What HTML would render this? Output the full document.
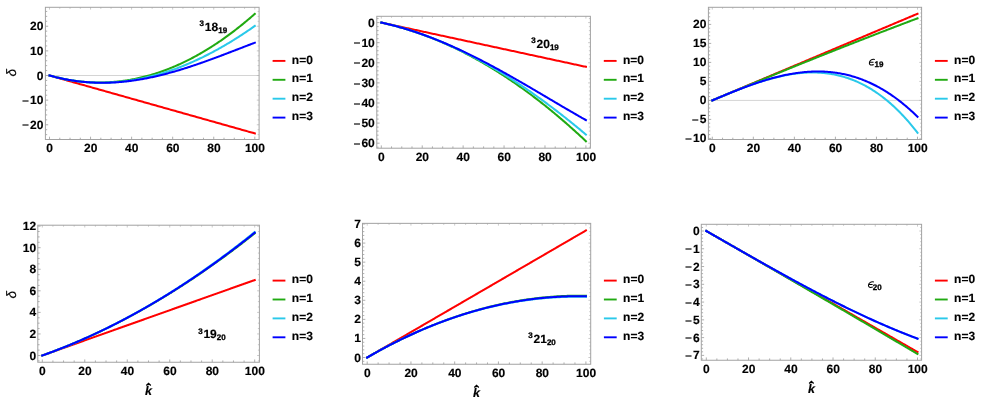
<!DOCTYPE html>
<html><head><meta charset="utf-8"><title>plots</title>
<style>
html,body{margin:0;padding:0;background:#fff;}
body{width:981px;height:404px;overflow:hidden;}
svg{display:block;will-change:transform;text-rendering:geometricPrecision;}
svg text{font-family:"Liberation Sans",sans-serif;font-weight:bold;font-size:12px;fill:#000;stroke:#000;stroke-width:0.15px;}
</style></head><body>
<svg width="981" height="404" viewBox="0 0 981 404">
<rect width="981" height="404" fill="#fff"/>
<g>
<line x1="45.4" y1="75.5" x2="259.1" y2="75.5" stroke="#d4d4d4" stroke-width="1"/>
<polyline points="49.5,75.5 50.53,75.79 51.55,76.08 52.58,76.37 53.61,76.66 54.63,76.95 55.66,77.24 56.69,77.53 57.71,77.82 58.74,78.11 59.77,78.4 60.79,78.68 61.82,78.97 62.84,79.26 63.87,79.55 64.9,79.84 65.92,80.13 66.95,80.42 67.98,80.71 69,81 70.03,81.29 71.06,81.58 72.08,81.87 73.11,82.16 74.14,82.45 75.16,82.74 76.19,83.03 77.22,83.32 78.24,83.61 79.27,83.9 80.3,84.19 81.32,84.48 82.35,84.76 83.37,85.05 84.4,85.34 85.43,85.63 86.45,85.92 87.48,86.21 88.51,86.5 89.53,86.79 90.56,87.08 91.59,87.37 92.61,87.66 93.64,87.95 94.67,88.24 95.69,88.53 96.72,88.82 97.75,89.11 98.77,89.4 99.8,89.69 100.83,89.98 101.85,90.27 102.88,90.56 103.9,90.84 104.93,91.13 105.96,91.42 106.98,91.71 108.01,92 109.04,92.29 110.06,92.58 111.09,92.87 112.12,93.16 113.14,93.45 114.17,93.74 115.2,94.03 116.22,94.32 117.25,94.61 118.28,94.9 119.3,95.19 120.33,95.48 121.36,95.77 122.38,96.06 123.41,96.35 124.43,96.63 125.46,96.92 126.49,97.21 127.51,97.5 128.54,97.79 129.57,98.08 130.59,98.37 131.62,98.66 132.65,98.95 133.67,99.24 134.7,99.53 135.73,99.82 136.75,100.11 137.78,100.4 138.81,100.69 139.83,100.98 140.86,101.27 141.88,101.56 142.91,101.85 143.94,102.14 144.96,102.43 145.99,102.71 147.02,103 148.04,103.29 149.07,103.58 150.1,103.87 151.12,104.16 152.15,104.45 153.18,104.74 154.2,105.03 155.23,105.32 156.26,105.61 157.28,105.9 158.31,106.19 159.34,106.48 160.36,106.77 161.39,107.06 162.42,107.35 163.44,107.64 164.47,107.93 165.49,108.22 166.52,108.51 167.55,108.79 168.57,109.08 169.6,109.37 170.63,109.66 171.65,109.95 172.68,110.24 173.71,110.53 174.73,110.82 175.76,111.11 176.79,111.4 177.81,111.69 178.84,111.98 179.87,112.27 180.89,112.56 181.92,112.85 182.94,113.14 183.97,113.43 185,113.72 186.02,114.01 187.05,114.3 188.08,114.59 189.1,114.87 190.13,115.16 191.16,115.45 192.18,115.74 193.21,116.03 194.24,116.32 195.26,116.61 196.29,116.9 197.32,117.19 198.34,117.48 199.37,117.77 200.4,118.06 201.42,118.35 202.45,118.64 203.47,118.93 204.5,119.22 205.53,119.51 206.55,119.8 207.58,120.09 208.61,120.38 209.63,120.67 210.66,120.95 211.69,121.24 212.71,121.53 213.74,121.82 214.77,122.11 215.79,122.4 216.82,122.69 217.85,122.98 218.87,123.27 219.9,123.56 220.93,123.85 221.95,124.14 222.98,124.43 224,124.72 225.03,125.01 226.06,125.3 227.08,125.59 228.11,125.88 229.14,126.17 230.16,126.46 231.19,126.75 232.22,127.03 233.24,127.32 234.27,127.61 235.3,127.9 236.32,128.19 237.35,128.48 238.38,128.77 239.4,129.06 240.43,129.35 241.46,129.64 242.48,129.93 243.51,130.22 244.53,130.51 245.56,130.8 246.59,131.09 247.61,131.38 248.64,131.67 249.67,131.96 250.69,132.25 251.72,132.54 252.75,132.82 253.77,133.11 254.8,133.4" fill="none" stroke="#ff0000" stroke-width="2.05" stroke-linecap="square" stroke-linejoin="round"/>
<polyline points="49.5,75.5 50.53,75.79 51.55,76.07 52.58,76.34 53.61,76.61 54.63,76.87 55.66,77.13 56.69,77.38 57.71,77.62 58.74,77.86 59.77,78.1 60.79,78.32 61.82,78.54 62.84,78.76 63.87,78.97 64.9,79.17 65.92,79.37 66.95,79.56 67.98,79.74 69,79.92 70.03,80.1 71.06,80.26 72.08,80.42 73.11,80.58 74.14,80.73 75.16,80.87 76.19,81.01 77.22,81.14 78.24,81.26 79.27,81.38 80.3,81.5 81.32,81.6 82.35,81.71 83.37,81.8 84.4,81.89 85.43,81.97 86.45,82.05 87.48,82.12 88.51,82.19 89.53,82.25 90.56,82.3 91.59,82.35 92.61,82.39 93.64,82.43 94.67,82.45 95.69,82.48 96.72,82.5 97.75,82.51 98.77,82.51 99.8,82.51 100.83,82.51 101.85,82.49 102.88,82.48 103.9,82.45 104.93,82.42 105.96,82.39 106.98,82.34 108.01,82.3 109.04,82.24 110.06,82.18 111.09,82.12 112.12,82.04 113.14,81.97 114.17,81.88 115.2,81.79 116.22,81.7 117.25,81.59 118.28,81.49 119.3,81.37 120.33,81.25 121.36,81.13 122.38,81 123.41,80.86 124.43,80.71 125.46,80.56 126.49,80.41 127.51,80.25 128.54,80.08 129.57,79.91 130.59,79.73 131.62,79.54 132.65,79.35 133.67,79.15 134.7,78.95 135.73,78.74 136.75,78.52 137.78,78.3 138.81,78.08 139.83,77.84 140.86,77.6 141.88,77.36 142.91,77.11 143.94,76.85 144.96,76.59 145.99,76.32 147.02,76.04 148.04,75.76 149.07,75.47 150.1,75.18 151.12,74.88 152.15,74.58 153.18,74.27 154.2,73.95 155.23,73.63 156.26,73.3 157.28,72.96 158.31,72.62 159.34,72.27 160.36,71.92 161.39,71.56 162.42,71.2 163.44,70.83 164.47,70.45 165.49,70.07 166.52,69.68 167.55,69.28 168.57,68.88 169.6,68.48 170.63,68.06 171.65,67.65 172.68,67.22 173.71,66.79 174.73,66.35 175.76,65.91 176.79,65.46 177.81,65.01 178.84,64.55 179.87,64.08 180.89,63.61 181.92,63.13 182.94,62.65 183.97,62.16 185,61.66 186.02,61.16 187.05,60.65 188.08,60.14 189.1,59.62 190.13,59.09 191.16,58.56 192.18,58.02 193.21,57.48 194.24,56.93 195.26,56.37 196.29,55.81 197.32,55.24 198.34,54.67 199.37,54.09 200.4,53.5 201.42,52.91 202.45,52.31 203.47,51.71 204.5,51.1 205.53,50.48 206.55,49.86 207.58,49.23 208.61,48.6 209.63,47.96 210.66,47.31 211.69,46.66 212.71,46 213.74,45.34 214.77,44.67 215.79,44 216.82,43.31 217.85,42.63 218.87,41.93 219.9,41.23 220.93,40.53 221.95,39.82 222.98,39.1 224,38.38 225.03,37.65 226.06,36.91 227.08,36.17 228.11,35.42 229.14,34.67 230.16,33.91 231.19,33.15 232.22,32.38 233.24,31.6 234.27,30.82 235.3,30.03 236.32,29.23 237.35,28.43 238.38,27.62 239.4,26.81 240.43,25.99 241.46,25.17 242.48,24.34 243.51,23.5 244.53,22.66 245.56,21.81 246.59,20.95 247.61,20.09 248.64,19.23 249.67,18.35 250.69,17.47 251.72,16.59 252.75,15.7 253.77,14.8 254.8,13.9" fill="none" stroke="#21aa12" stroke-width="2.05" stroke-linecap="square" stroke-linejoin="round"/>
<polyline points="49.5,75.5 50.53,75.79 51.55,76.07 52.58,76.34 53.61,76.61 54.63,76.87 55.66,77.13 56.69,77.38 57.71,77.63 58.74,77.86 59.77,78.1 60.79,78.33 61.82,78.55 62.84,78.76 63.87,78.97 64.9,79.18 65.92,79.37 66.95,79.57 67.98,79.75 69,79.93 70.03,80.11 71.06,80.28 72.08,80.44 73.11,80.6 74.14,80.75 75.16,80.89 76.19,81.03 77.22,81.17 78.24,81.3 79.27,81.42 80.3,81.54 81.32,81.65 82.35,81.75 83.37,81.85 84.4,81.95 85.43,82.04 86.45,82.12 87.48,82.2 88.51,82.27 89.53,82.34 90.56,82.4 91.59,82.45 92.61,82.5 93.64,82.55 94.67,82.58 95.69,82.62 96.72,82.64 97.75,82.66 98.77,82.68 99.8,82.69 100.83,82.7 101.85,82.69 102.88,82.69 103.9,82.68 104.93,82.66 105.96,82.64 106.98,82.61 108.01,82.58 109.04,82.54 110.06,82.49 111.09,82.44 112.12,82.39 113.14,82.33 114.17,82.26 115.2,82.19 116.22,82.11 117.25,82.03 118.28,81.94 119.3,81.85 120.33,81.75 121.36,81.64 122.38,81.54 123.41,81.42 124.43,81.3 125.46,81.18 126.49,81.05 127.51,80.91 128.54,80.77 129.57,80.62 130.59,80.47 131.62,80.31 132.65,80.15 133.67,79.98 134.7,79.81 135.73,79.63 136.75,79.45 137.78,79.26 138.81,79.07 139.83,78.87 140.86,78.67 141.88,78.46 142.91,78.24 143.94,78.02 144.96,77.8 145.99,77.57 147.02,77.34 148.04,77.1 149.07,76.85 150.1,76.6 151.12,76.35 152.15,76.09 153.18,75.82 154.2,75.55 155.23,75.27 156.26,74.99 157.28,74.71 158.31,74.42 159.34,74.12 160.36,73.82 161.39,73.52 162.42,73.21 163.44,72.89 164.47,72.57 165.49,72.24 166.52,71.91 167.55,71.58 168.57,71.24 169.6,70.89 170.63,70.54 171.65,70.19 172.68,69.83 173.71,69.46 174.73,69.09 175.76,68.72 176.79,68.34 177.81,67.96 178.84,67.57 179.87,67.17 180.89,66.77 181.92,66.37 182.94,65.96 183.97,65.55 185,65.13 186.02,64.71 187.05,64.28 188.08,63.85 189.1,63.41 190.13,62.97 191.16,62.52 192.18,62.07 193.21,61.62 194.24,61.16 195.26,60.69 196.29,60.22 197.32,59.75 198.34,59.27 199.37,58.78 200.4,58.29 201.42,57.8 202.45,57.3 203.47,56.8 204.5,56.29 205.53,55.78 206.55,55.27 207.58,54.74 208.61,54.22 209.63,53.69 210.66,53.15 211.69,52.61 212.71,52.07 213.74,51.52 214.77,50.97 215.79,50.41 216.82,49.85 217.85,49.28 218.87,48.71 219.9,48.14 220.93,47.56 221.95,46.97 222.98,46.38 224,45.79 225.03,45.19 226.06,44.59 227.08,43.99 228.11,43.37 229.14,42.76 230.16,42.14 231.19,41.52 232.22,40.89 233.24,40.25 234.27,39.62 235.3,38.98 236.32,38.33 237.35,37.68 238.38,37.03 239.4,36.37 240.43,35.7 241.46,35.04 242.48,34.36 243.51,33.69 244.53,33.01 245.56,32.32 246.59,31.63 247.61,30.94 248.64,30.24 249.67,29.54 250.69,28.84 251.72,28.13 252.75,27.41 253.77,26.7 254.8,25.97" fill="none" stroke="#2ac9ea" stroke-width="2.05" stroke-linecap="square" stroke-linejoin="round"/>
<polyline points="49.5,75.5 50.53,75.79 51.55,76.07 52.58,76.34 53.61,76.61 54.63,76.87 55.66,77.13 56.69,77.38 57.71,77.63 58.74,77.86 59.77,78.1 60.79,78.33 61.82,78.55 62.84,78.76 63.87,78.97 64.9,79.18 65.92,79.37 66.95,79.57 67.98,79.75 69,79.93 70.03,80.11 71.06,80.28 72.08,80.44 73.11,80.6 74.14,80.75 75.16,80.9 76.19,81.04 77.22,81.17 78.24,81.3 79.27,81.43 80.3,81.55 81.32,81.66 82.35,81.77 83.37,81.87 84.4,81.96 85.43,82.05 86.45,82.14 87.48,82.22 88.51,82.29 89.53,82.36 90.56,82.42 91.59,82.48 92.61,82.53 93.64,82.58 94.67,82.62 95.69,82.66 96.72,82.69 97.75,82.72 98.77,82.74 99.8,82.75 100.83,82.76 101.85,82.77 102.88,82.77 103.9,82.76 104.93,82.75 105.96,82.73 106.98,82.71 108.01,82.69 109.04,82.65 110.06,82.62 111.09,82.58 112.12,82.53 113.14,82.48 114.17,82.42 115.2,82.36 116.22,82.3 117.25,82.23 118.28,82.15 119.3,82.07 120.33,81.99 121.36,81.9 122.38,81.8 123.41,81.7 124.43,81.6 125.46,81.49 126.49,81.38 127.51,81.26 128.54,81.14 129.57,81.01 130.59,80.88 131.62,80.74 132.65,80.6 133.67,80.46 134.7,80.31 135.73,80.16 136.75,80 137.78,79.84 138.81,79.67 139.83,79.5 140.86,79.32 141.88,79.14 142.91,78.96 143.94,78.77 144.96,78.58 145.99,78.39 147.02,78.19 148.04,77.98 149.07,77.78 150.1,77.57 151.12,77.35 152.15,77.13 153.18,76.91 154.2,76.68 155.23,76.45 156.26,76.22 157.28,75.98 158.31,75.74 159.34,75.5 160.36,75.25 161.39,74.99 162.42,74.74 163.44,74.48 164.47,74.22 165.49,73.95 166.52,73.68 167.55,73.41 168.57,73.13 169.6,72.86 170.63,72.57 171.65,72.29 172.68,72 173.71,71.71 174.73,71.41 175.76,71.12 176.79,70.82 177.81,70.51 178.84,70.21 179.87,69.9 180.89,69.59 181.92,69.27 182.94,68.95 183.97,68.63 185,68.31 186.02,67.99 187.05,67.66 188.08,67.33 189.1,66.99 190.13,66.66 191.16,66.32 192.18,65.98 193.21,65.64 194.24,65.3 195.26,64.95 196.29,64.6 197.32,64.25 198.34,63.9 199.37,63.54 200.4,63.18 201.42,62.83 202.45,62.46 203.47,62.1 204.5,61.74 205.53,61.37 206.55,61 207.58,60.63 208.61,60.26 209.63,59.89 210.66,59.52 211.69,59.14 212.71,58.76 213.74,58.39 214.77,58.01 215.79,57.62 216.82,57.24 217.85,56.86 218.87,56.47 219.9,56.09 220.93,55.7 221.95,55.32 222.98,54.93 224,54.54 225.03,54.15 226.06,53.76 227.08,53.37 228.11,52.97 229.14,52.58 230.16,52.19 231.19,51.79 232.22,51.4 233.24,51 234.27,50.61 235.3,50.21 236.32,49.82 237.35,49.42 238.38,49.03 239.4,48.63 240.43,48.24 241.46,47.84 242.48,47.45 243.51,47.05 244.53,46.66 245.56,46.26 246.59,45.87 247.61,45.47 248.64,45.08 249.67,44.68 250.69,44.29 251.72,43.9 252.75,43.51 253.77,43.12 254.8,42.73" fill="none" stroke="#0000ff" stroke-width="2.05" stroke-linecap="square" stroke-linejoin="round"/>
<path d="M49.5 139.5v-2.8M59.77 139.5v-1.8M70.03 139.5v-1.8M80.3 139.5v-1.8M90.56 139.5v-2.8M100.83 139.5v-1.8M111.09 139.5v-1.8M121.36 139.5v-1.8M131.62 139.5v-2.8M141.88 139.5v-1.8M152.15 139.5v-1.8M162.42 139.5v-1.8M172.68 139.5v-2.8M182.94 139.5v-1.8M193.21 139.5v-1.8M203.47 139.5v-1.8M213.74 139.5v-2.8M224 139.5v-1.8M234.27 139.5v-1.8M244.53 139.5v-1.8M254.8 139.5v-2.8M45.4 134.64h1.8M45.4 129.71h1.8M45.4 124.78h2.8M45.4 119.85h1.8M45.4 114.92h1.8M45.4 110h1.8M45.4 105.07h1.8M45.4 100.14h2.8M45.4 95.21h1.8M45.4 90.28h1.8M45.4 85.36h1.8M45.4 80.43h1.8M45.4 75.5h2.8M45.4 70.57h1.8M45.4 65.64h1.8M45.4 60.72h1.8M45.4 55.79h1.8M45.4 50.86h2.8M45.4 45.93h1.8M45.4 41h1.8M45.4 36.08h1.8M45.4 31.15h1.8M45.4 26.22h2.8M45.4 21.29h1.8M45.4 16.36h1.8M45.4 11.44h1.8" stroke="#a0a0a0" stroke-width="0.85" fill="none"/>
<path d="M49.5 7.3v2.3M59.77 7.3v1.5M70.03 7.3v1.5M80.3 7.3v1.5M90.56 7.3v2.3M100.83 7.3v1.5M111.09 7.3v1.5M121.36 7.3v1.5M131.62 7.3v2.3M141.88 7.3v1.5M152.15 7.3v1.5M162.42 7.3v1.5M172.68 7.3v2.3M182.94 7.3v1.5M193.21 7.3v1.5M203.47 7.3v1.5M213.74 7.3v2.3M224 7.3v1.5M234.27 7.3v1.5M244.53 7.3v1.5M254.8 7.3v2.3M259.1 134.64h-1.5M259.1 129.71h-1.5M259.1 124.78h-2.3M259.1 119.85h-1.5M259.1 114.92h-1.5M259.1 110h-1.5M259.1 105.07h-1.5M259.1 100.14h-2.3M259.1 95.21h-1.5M259.1 90.28h-1.5M259.1 85.36h-1.5M259.1 80.43h-1.5M259.1 75.5h-2.3M259.1 70.57h-1.5M259.1 65.64h-1.5M259.1 60.72h-1.5M259.1 55.79h-1.5M259.1 50.86h-2.3M259.1 45.93h-1.5M259.1 41h-1.5M259.1 36.08h-1.5M259.1 31.15h-1.5M259.1 26.22h-2.3M259.1 21.29h-1.5M259.1 16.36h-1.5M259.1 11.44h-1.5" stroke="#bebebe" stroke-width="0.8" fill="none"/>
<rect x="45.4" y="7.3" width="213.7" height="132.2" fill="none" stroke="#a2a2a2" stroke-width="1"/>
<text x="49.65" y="151.85" text-anchor="middle">0</text>
<text x="90.71" y="151.85" text-anchor="middle">20</text>
<text x="131.77" y="151.85" text-anchor="middle">40</text>
<text x="172.83" y="151.85" text-anchor="middle">60</text>
<text x="213.89" y="151.85" text-anchor="middle">80</text>
<text x="254.95" y="151.85" text-anchor="middle">100</text>
<text x="43.4" y="30.27" text-anchor="end">20</text>
<text x="43.4" y="54.91" text-anchor="end">10</text>
<text x="43.4" y="79.55" text-anchor="end">0</text>
<text x="43.4" y="104.19" text-anchor="end"><tspan dy="0.6" style="font-weight:normal">−</tspan><tspan dx="1.0" dy="-0.6">10</tspan></text>
<text x="43.4" y="128.83" text-anchor="end"><tspan dy="0.6" style="font-weight:normal">−</tspan><tspan dx="1.0" dy="-0.6">20</tspan></text>
<text transform="translate(15.7,72.6) rotate(-90)" text-anchor="middle" style="font-style:italic;font-weight:normal;font-size:13.6px">δ</text>
<line x1="272.6" y1="60.9" x2="285.4" y2="60.9" stroke="#ff0000" stroke-width="1.9"/>
<text x="291.8" y="63.5">n=0</text>
<line x1="272.6" y1="79.8" x2="285.4" y2="79.8" stroke="#21aa12" stroke-width="1.9"/>
<text x="291.8" y="82.4">n=1</text>
<line x1="272.6" y1="98.7" x2="285.4" y2="98.7" stroke="#2ac9ea" stroke-width="1.9"/>
<text x="291.8" y="101.3">n=2</text>
<line x1="272.6" y1="117.6" x2="285.4" y2="117.6" stroke="#0000ff" stroke-width="1.9"/>
<text x="291.8" y="120.2">n=3</text>
<text x="199.6" y="26" style="font-size:8.0px;stroke:#000;stroke-width:0.3px">3</text>
<text x="204.8" y="30.6">18</text>
<text x="218.2" y="32.6" style="font-size:8.0px;stroke:#000;stroke-width:0.3px">19</text>
</g>
<g>
<polyline points="381.3,22.6 382.32,22.82 383.35,23.04 384.37,23.26 385.39,23.48 386.42,23.71 387.44,23.93 388.46,24.15 389.48,24.37 390.51,24.59 391.53,24.81 392.55,25.03 393.58,25.25 394.6,25.47 395.62,25.7 396.64,25.92 397.67,26.14 398.69,26.36 399.71,26.58 400.74,26.8 401.76,27.02 402.78,27.24 403.81,27.46 404.83,27.69 405.85,27.91 406.88,28.13 407.9,28.35 408.92,28.57 409.94,28.79 410.97,29.01 411.99,29.23 413.01,29.45 414.04,29.68 415.06,29.9 416.08,30.12 417.11,30.34 418.13,30.56 419.15,30.78 420.17,31 421.2,31.22 422.22,31.44 423.24,31.67 424.27,31.89 425.29,32.11 426.31,32.33 427.33,32.55 428.36,32.77 429.38,32.99 430.4,33.21 431.43,33.43 432.45,33.66 433.47,33.88 434.5,34.1 435.52,34.32 436.54,34.54 437.56,34.76 438.59,34.98 439.61,35.2 440.63,35.42 441.66,35.64 442.68,35.87 443.7,36.09 444.73,36.31 445.75,36.53 446.77,36.75 447.8,36.97 448.82,37.19 449.84,37.41 450.86,37.63 451.89,37.86 452.91,38.08 453.93,38.3 454.96,38.52 455.98,38.74 457,38.96 458.02,39.18 459.05,39.4 460.07,39.62 461.09,39.85 462.12,40.07 463.14,40.29 464.16,40.51 465.19,40.73 466.21,40.95 467.23,41.17 468.25,41.39 469.28,41.61 470.3,41.84 471.32,42.06 472.35,42.28 473.37,42.5 474.39,42.72 475.42,42.94 476.44,43.16 477.46,43.38 478.49,43.6 479.51,43.83 480.53,44.05 481.55,44.27 482.58,44.49 483.6,44.71 484.62,44.93 485.65,45.15 486.67,45.37 487.69,45.59 488.71,45.82 489.74,46.04 490.76,46.26 491.78,46.48 492.81,46.7 493.83,46.92 494.85,47.14 495.88,47.36 496.9,47.58 497.92,47.81 498.94,48.03 499.97,48.25 500.99,48.47 502.01,48.69 503.04,48.91 504.06,49.13 505.08,49.35 506.11,49.57 507.13,49.8 508.15,50.02 509.18,50.24 510.2,50.46 511.22,50.68 512.24,50.9 513.27,51.12 514.29,51.34 515.31,51.56 516.34,51.79 517.36,52.01 518.38,52.23 519.4,52.45 520.43,52.67 521.45,52.89 522.47,53.11 523.5,53.33 524.52,53.55 525.54,53.78 526.57,54 527.59,54.22 528.61,54.44 529.63,54.66 530.66,54.88 531.68,55.1 532.7,55.32 533.73,55.54 534.75,55.77 535.77,55.99 536.8,56.21 537.82,56.43 538.84,56.65 539.87,56.87 540.89,57.09 541.91,57.31 542.93,57.53 543.96,57.75 544.98,57.98 546,58.2 547.03,58.42 548.05,58.64 549.07,58.86 550.1,59.08 551.12,59.3 552.14,59.52 553.16,59.74 554.19,59.97 555.21,60.19 556.23,60.41 557.26,60.63 558.28,60.85 559.3,61.07 560.33,61.29 561.35,61.51 562.37,61.73 563.39,61.96 564.42,62.18 565.44,62.4 566.46,62.62 567.49,62.84 568.51,63.06 569.53,63.28 570.55,63.5 571.58,63.72 572.6,63.95 573.62,64.17 574.65,64.39 575.67,64.61 576.69,64.83 577.72,65.05 578.74,65.27 579.76,65.49 580.78,65.71 581.81,65.94 582.83,66.16 583.85,66.38 584.88,66.6 585.9,66.82" fill="none" stroke="#ff0000" stroke-width="2.05" stroke-linecap="square" stroke-linejoin="round"/>
<polyline points="381.3,22.6 382.32,22.82 383.35,23.05 384.37,23.28 385.39,23.51 386.42,23.75 387.44,23.99 388.46,24.24 389.48,24.49 390.51,24.74 391.53,25 392.55,25.26 393.58,25.52 394.6,25.79 395.62,26.06 396.64,26.33 397.67,26.61 398.69,26.9 399.71,27.18 400.74,27.47 401.76,27.77 402.78,28.06 403.81,28.36 404.83,28.67 405.85,28.98 406.88,29.29 407.9,29.61 408.92,29.93 409.94,30.25 410.97,30.58 411.99,30.91 413.01,31.24 414.04,31.58 415.06,31.92 416.08,32.27 417.11,32.62 418.13,32.97 419.15,33.33 420.17,33.69 421.2,34.05 422.22,34.42 423.24,34.79 424.27,35.17 425.29,35.55 426.31,35.93 427.33,36.31 428.36,36.7 429.38,37.1 430.4,37.5 431.43,37.9 432.45,38.3 433.47,38.71 434.5,39.12 435.52,39.54 436.54,39.96 437.56,40.38 438.59,40.81 439.61,41.24 440.63,41.68 441.66,42.12 442.68,42.56 443.7,43.01 444.73,43.46 445.75,43.91 446.77,44.37 447.8,44.83 448.82,45.29 449.84,45.76 450.86,46.23 451.89,46.71 452.91,47.19 453.93,47.67 454.96,48.16 455.98,48.65 457,49.14 458.02,49.64 459.05,50.14 460.07,50.65 461.09,51.16 462.12,51.67 463.14,52.19 464.16,52.71 465.19,53.23 466.21,53.76 467.23,54.29 468.25,54.83 469.28,55.37 470.3,55.91 471.32,56.45 472.35,57.01 473.37,57.56 474.39,58.12 475.42,58.68 476.44,59.24 477.46,59.81 478.49,60.38 479.51,60.96 480.53,61.54 481.55,62.12 482.58,62.71 483.6,63.3 484.62,63.9 485.65,64.5 486.67,65.1 487.69,65.7 488.71,66.31 489.74,66.93 490.76,67.54 491.78,68.17 492.81,68.79 493.83,69.42 494.85,70.05 495.88,70.69 496.9,71.33 497.92,71.97 498.94,72.62 499.97,73.27 500.99,73.92 502.01,74.58 503.04,75.24 504.06,75.91 505.08,76.57 506.11,77.25 507.13,77.92 508.15,78.6 509.18,79.29 510.2,79.98 511.22,80.67 512.24,81.36 513.27,82.06 514.29,82.76 515.31,83.47 516.34,84.18 517.36,84.89 518.38,85.61 519.4,86.33 520.43,87.06 521.45,87.79 522.47,88.52 523.5,89.26 524.52,90 525.54,90.74 526.57,91.49 527.59,92.24 528.61,92.99 529.63,93.75 530.66,94.51 531.68,95.28 532.7,96.05 533.73,96.82 534.75,97.6 535.77,98.38 536.8,99.16 537.82,99.95 538.84,100.74 539.87,101.54 540.89,102.34 541.91,103.14 542.93,103.95 543.96,104.76 544.98,105.57 546,106.39 547.03,107.21 548.05,108.04 549.07,108.87 550.1,109.7 551.12,110.54 552.14,111.38 553.16,112.22 554.19,113.07 555.21,113.92 556.23,114.77 557.26,115.63 558.28,116.5 559.3,117.36 560.33,118.23 561.35,119.11 562.37,119.98 563.39,120.86 564.42,121.75 565.44,122.64 566.46,123.53 567.49,124.43 568.51,125.33 569.53,126.23 570.55,127.14 571.58,128.05 572.6,128.96 573.62,129.88 574.65,130.8 575.67,131.73 576.69,132.66 577.72,133.59 578.74,134.53 579.76,135.47 580.78,136.41 581.81,137.36 582.83,138.31 583.85,139.27 584.88,140.23 585.9,141.19" fill="none" stroke="#21aa12" stroke-width="2.05" stroke-linecap="square" stroke-linejoin="round"/>
<polyline points="381.3,22.6 382.32,22.82 383.35,23.05 384.37,23.28 385.39,23.51 386.42,23.75 387.44,23.99 388.46,24.24 389.48,24.49 390.51,24.74 391.53,25 392.55,25.26 393.58,25.52 394.6,25.79 395.62,26.06 396.64,26.33 397.67,26.61 398.69,26.89 399.71,27.18 400.74,27.47 401.76,27.76 402.78,28.06 403.81,28.36 404.83,28.66 405.85,28.97 406.88,29.28 407.9,29.59 408.92,29.91 409.94,30.23 410.97,30.56 411.99,30.88 413.01,31.22 414.04,31.55 415.06,31.89 416.08,32.23 417.11,32.58 418.13,32.93 419.15,33.28 420.17,33.64 421.2,34 422.22,34.37 423.24,34.73 424.27,35.1 425.29,35.48 426.31,35.86 427.33,36.24 428.36,36.62 429.38,37.01 430.4,37.4 431.43,37.8 432.45,38.2 433.47,38.6 434.5,39.01 435.52,39.42 436.54,39.83 437.56,40.25 438.59,40.67 439.61,41.09 440.63,41.52 441.66,41.95 442.68,42.38 443.7,42.82 444.73,43.26 445.75,43.7 446.77,44.15 447.8,44.6 448.82,45.05 449.84,45.51 450.86,45.97 451.89,46.44 452.91,46.9 453.93,47.37 454.96,47.85 455.98,48.33 457,48.81 458.02,49.29 459.05,49.78 460.07,50.27 461.09,50.76 462.12,51.26 463.14,51.76 464.16,52.27 465.19,52.77 466.21,53.29 467.23,53.8 468.25,54.32 469.28,54.84 470.3,55.36 471.32,55.89 472.35,56.42 473.37,56.95 474.39,57.49 475.42,58.03 476.44,58.58 477.46,59.12 478.49,59.67 479.51,60.23 480.53,60.78 481.55,61.34 482.58,61.91 483.6,62.47 484.62,63.04 485.65,63.62 486.67,64.19 487.69,64.77 488.71,65.35 489.74,65.94 490.76,66.53 491.78,67.12 492.81,67.72 493.83,68.31 494.85,68.92 495.88,69.52 496.9,70.13 497.92,70.74 498.94,71.35 499.97,71.97 500.99,72.59 502.01,73.22 503.04,73.84 504.06,74.47 505.08,75.11 506.11,75.74 507.13,76.38 508.15,77.02 509.18,77.67 510.2,78.32 511.22,78.97 512.24,79.62 513.27,80.28 514.29,80.94 515.31,81.61 516.34,82.27 517.36,82.94 518.38,83.62 519.4,84.29 520.43,84.97 521.45,85.65 522.47,86.34 523.5,87.03 524.52,87.72 525.54,88.41 526.57,89.11 527.59,89.81 528.61,90.52 529.63,91.22 530.66,91.93 531.68,92.64 532.7,93.36 533.73,94.08 534.75,94.8 535.77,95.52 536.8,96.25 537.82,96.98 538.84,97.72 539.87,98.45 540.89,99.19 541.91,99.93 542.93,100.68 543.96,101.43 544.98,102.18 546,102.93 547.03,103.69 548.05,104.45 549.07,105.21 550.1,105.98 551.12,106.74 552.14,107.51 553.16,108.29 554.19,109.07 555.21,109.85 556.23,110.63 557.26,111.41 558.28,112.2 559.3,112.99 560.33,113.79 561.35,114.59 562.37,115.39 563.39,116.19 564.42,116.99 565.44,117.8 566.46,118.61 567.49,119.43 568.51,120.24 569.53,121.06 570.55,121.89 571.58,122.71 572.6,123.54 573.62,124.37 574.65,125.2 575.67,126.04 576.69,126.88 577.72,127.72 578.74,128.57 579.76,129.41 580.78,130.26 581.81,131.12 582.83,131.97 583.85,132.83 584.88,133.69 585.9,134.56" fill="none" stroke="#2ac9ea" stroke-width="2.05" stroke-linecap="square" stroke-linejoin="round"/>
<polyline points="381.3,22.6 382.32,22.82 383.35,23.05 384.37,23.28 385.39,23.51 386.42,23.75 387.44,23.99 388.46,24.24 389.48,24.49 390.51,24.74 391.53,25 392.55,25.26 393.58,25.52 394.6,25.79 395.62,26.06 396.64,26.33 397.67,26.61 398.69,26.89 399.71,27.18 400.74,27.47 401.76,27.76 402.78,28.05 403.81,28.35 404.83,28.66 405.85,28.96 406.88,29.27 407.9,29.59 408.92,29.9 409.94,30.22 410.97,30.55 411.99,30.88 413.01,31.21 414.04,31.54 415.06,31.88 416.08,32.22 417.11,32.57 418.13,32.92 419.15,33.27 420.17,33.62 421.2,33.98 422.22,34.34 423.24,34.71 424.27,35.08 425.29,35.45 426.31,35.82 427.33,36.2 428.36,36.58 429.38,36.97 430.4,37.36 431.43,37.75 432.45,38.14 433.47,38.54 434.5,38.94 435.52,39.35 436.54,39.75 437.56,40.16 438.59,40.58 439.61,40.99 440.63,41.41 441.66,41.84 442.68,42.26 443.7,42.69 444.73,43.12 445.75,43.56 446.77,44 447.8,44.44 448.82,44.88 449.84,45.33 450.86,45.78 451.89,46.23 452.91,46.69 453.93,47.14 454.96,47.61 455.98,48.07 457,48.54 458.02,49 459.05,49.48 460.07,49.95 461.09,50.43 462.12,50.91 463.14,51.39 464.16,51.88 465.19,52.37 466.21,52.86 467.23,53.35 468.25,53.85 469.28,54.34 470.3,54.84 471.32,55.35 472.35,55.85 473.37,56.36 474.39,56.87 475.42,57.38 476.44,57.9 477.46,58.42 478.49,58.94 479.51,59.46 480.53,59.98 481.55,60.51 482.58,61.04 483.6,61.57 484.62,62.1 485.65,62.64 486.67,63.17 487.69,63.71 488.71,64.25 489.74,64.8 490.76,65.34 491.78,65.89 492.81,66.44 493.83,66.99 494.85,67.54 495.88,68.1 496.9,68.65 497.92,69.21 498.94,69.77 499.97,70.33 500.99,70.9 502.01,71.46 503.04,72.03 504.06,72.6 505.08,73.17 506.11,73.74 507.13,74.31 508.15,74.88 509.18,75.46 510.2,76.04 511.22,76.62 512.24,77.2 513.27,77.78 514.29,78.36 515.31,78.94 516.34,79.53 517.36,80.11 518.38,80.7 519.4,81.29 520.43,81.88 521.45,82.47 522.47,83.06 523.5,83.65 524.52,84.25 525.54,84.84 526.57,85.43 527.59,86.03 528.61,86.63 529.63,87.22 530.66,87.82 531.68,88.42 532.7,89.02 533.73,89.62 534.75,90.22 535.77,90.82 536.8,91.42 537.82,92.03 538.84,92.63 539.87,93.23 540.89,93.83 541.91,94.44 542.93,95.04 543.96,95.64 544.98,96.25 546,96.85 547.03,97.46 548.05,98.06 549.07,98.67 550.1,99.27 551.12,99.88 552.14,100.48 553.16,101.08 554.19,101.69 555.21,102.29 556.23,102.89 557.26,103.5 558.28,104.1 559.3,104.7 560.33,105.31 561.35,105.91 562.37,106.51 563.39,107.11 564.42,107.71 565.44,108.31 566.46,108.91 567.49,109.5 568.51,110.1 569.53,110.7 570.55,111.29 571.58,111.89 572.6,112.48 573.62,113.07 574.65,113.66 575.67,114.25 576.69,114.84 577.72,115.43 578.74,116.02 579.76,116.6 580.78,117.19 581.81,117.77 582.83,118.35 583.85,118.93 584.88,119.51 585.9,120.08" fill="none" stroke="#0000ff" stroke-width="2.05" stroke-linecap="square" stroke-linejoin="round"/>
<path d="M381.3 148.2v-2.8M391.53 148.2v-1.8M401.76 148.2v-1.8M411.99 148.2v-1.8M422.22 148.2v-2.8M432.45 148.2v-1.8M442.68 148.2v-1.8M452.91 148.2v-1.8M463.14 148.2v-2.8M473.37 148.2v-1.8M483.6 148.2v-1.8M493.83 148.2v-1.8M504.06 148.2v-2.8M514.29 148.2v-1.8M524.52 148.2v-1.8M534.75 148.2v-1.8M544.98 148.2v-2.8M555.21 148.2v-1.8M565.44 148.2v-1.8M575.67 148.2v-1.8M585.9 148.2v-2.8M376.8 147.22h1.8M376.8 143.2h2.8M376.8 139.18h1.8M376.8 135.16h1.8M376.8 131.14h1.8M376.8 127.12h1.8M376.8 123.1h2.8M376.8 119.08h1.8M376.8 115.06h1.8M376.8 111.04h1.8M376.8 107.02h1.8M376.8 103h2.8M376.8 98.98h1.8M376.8 94.96h1.8M376.8 90.94h1.8M376.8 86.92h1.8M376.8 82.9h2.8M376.8 78.88h1.8M376.8 74.86h1.8M376.8 70.84h1.8M376.8 66.82h1.8M376.8 62.8h2.8M376.8 58.78h1.8M376.8 54.76h1.8M376.8 50.74h1.8M376.8 46.72h1.8M376.8 42.7h2.8M376.8 38.68h1.8M376.8 34.66h1.8M376.8 30.64h1.8M376.8 26.62h1.8M376.8 22.6h2.8M376.8 18.58h1.8" stroke="#a0a0a0" stroke-width="0.85" fill="none"/>
<path d="M381.3 16.3v2.3M391.53 16.3v1.5M401.76 16.3v1.5M411.99 16.3v1.5M422.22 16.3v2.3M432.45 16.3v1.5M442.68 16.3v1.5M452.91 16.3v1.5M463.14 16.3v2.3M473.37 16.3v1.5M483.6 16.3v1.5M493.83 16.3v1.5M504.06 16.3v2.3M514.29 16.3v1.5M524.52 16.3v1.5M534.75 16.3v1.5M544.98 16.3v2.3M555.21 16.3v1.5M565.44 16.3v1.5M575.67 16.3v1.5M585.9 16.3v2.3M590.4 147.22h-1.5M590.4 143.2h-2.3M590.4 139.18h-1.5M590.4 135.16h-1.5M590.4 131.14h-1.5M590.4 127.12h-1.5M590.4 123.1h-2.3M590.4 119.08h-1.5M590.4 115.06h-1.5M590.4 111.04h-1.5M590.4 107.02h-1.5M590.4 103h-2.3M590.4 98.98h-1.5M590.4 94.96h-1.5M590.4 90.94h-1.5M590.4 86.92h-1.5M590.4 82.9h-2.3M590.4 78.88h-1.5M590.4 74.86h-1.5M590.4 70.84h-1.5M590.4 66.82h-1.5M590.4 62.8h-2.3M590.4 58.78h-1.5M590.4 54.76h-1.5M590.4 50.74h-1.5M590.4 46.72h-1.5M590.4 42.7h-2.3M590.4 38.68h-1.5M590.4 34.66h-1.5M590.4 30.64h-1.5M590.4 26.62h-1.5M590.4 22.6h-2.3M590.4 18.58h-1.5" stroke="#bebebe" stroke-width="0.8" fill="none"/>
<rect x="376.8" y="16.3" width="213.6" height="131.9" fill="none" stroke="#a2a2a2" stroke-width="1"/>
<text x="381.45" y="160.55" text-anchor="middle">0</text>
<text x="422.37" y="160.55" text-anchor="middle">20</text>
<text x="463.29" y="160.55" text-anchor="middle">40</text>
<text x="504.21" y="160.55" text-anchor="middle">60</text>
<text x="545.13" y="160.55" text-anchor="middle">80</text>
<text x="586.05" y="160.55" text-anchor="middle">100</text>
<text x="374.8" y="26.65" text-anchor="end">0</text>
<text x="374.8" y="46.75" text-anchor="end"><tspan dy="0.6" style="font-weight:normal">−</tspan><tspan dx="1.0" dy="-0.6">10</tspan></text>
<text x="374.8" y="66.85" text-anchor="end"><tspan dy="0.6" style="font-weight:normal">−</tspan><tspan dx="1.0" dy="-0.6">20</tspan></text>
<text x="374.8" y="86.95" text-anchor="end"><tspan dy="0.6" style="font-weight:normal">−</tspan><tspan dx="1.0" dy="-0.6">30</tspan></text>
<text x="374.8" y="107.05" text-anchor="end"><tspan dy="0.6" style="font-weight:normal">−</tspan><tspan dx="1.0" dy="-0.6">40</tspan></text>
<text x="374.8" y="127.15" text-anchor="end"><tspan dy="0.6" style="font-weight:normal">−</tspan><tspan dx="1.0" dy="-0.6">50</tspan></text>
<text x="374.8" y="147.25" text-anchor="end"><tspan dy="0.6" style="font-weight:normal">−</tspan><tspan dx="1.0" dy="-0.6">60</tspan></text>
<line x1="603.8" y1="60.9" x2="616.6" y2="60.9" stroke="#ff0000" stroke-width="1.9"/>
<text x="623" y="63.5">n=0</text>
<line x1="603.8" y1="79.8" x2="616.6" y2="79.8" stroke="#21aa12" stroke-width="1.9"/>
<text x="623" y="82.4">n=1</text>
<line x1="603.8" y1="98.7" x2="616.6" y2="98.7" stroke="#2ac9ea" stroke-width="1.9"/>
<text x="623" y="101.3">n=2</text>
<line x1="603.8" y1="117.6" x2="616.6" y2="117.6" stroke="#0000ff" stroke-width="1.9"/>
<text x="623" y="120.2">n=3</text>
<text x="531.3" y="43" style="font-size:8.0px;stroke:#000;stroke-width:0.3px">3</text>
<text x="536.5" y="47.6">20</text>
<text x="549.9" y="49.6" style="font-size:8.0px;stroke:#000;stroke-width:0.3px">19</text>
</g>
<g>
<line x1="708.4" y1="100.4" x2="921.6" y2="100.4" stroke="#d4d4d4" stroke-width="1"/>
<polyline points="712.3,100.4 713.33,99.97 714.35,99.53 715.38,99.1 716.4,98.67 717.43,98.23 718.46,97.8 719.48,97.37 720.51,96.93 721.53,96.5 722.56,96.07 723.59,95.63 724.61,95.2 725.64,94.77 726.66,94.34 727.69,93.9 728.72,93.47 729.74,93.04 730.77,92.6 731.79,92.17 732.82,91.74 733.85,91.3 734.87,90.87 735.9,90.44 736.92,90 737.95,89.57 738.98,89.14 740,88.7 741.03,88.27 742.05,87.84 743.08,87.4 744.11,86.97 745.13,86.54 746.16,86.1 747.18,85.67 748.21,85.24 749.24,84.8 750.26,84.37 751.29,83.94 752.31,83.51 753.34,83.07 754.37,82.64 755.39,82.21 756.42,81.77 757.44,81.34 758.47,80.91 759.5,80.47 760.52,80.04 761.55,79.61 762.57,79.17 763.6,78.74 764.63,78.31 765.65,77.87 766.68,77.44 767.7,77.01 768.73,76.57 769.76,76.14 770.78,75.71 771.81,75.27 772.83,74.84 773.86,74.41 774.89,73.97 775.91,73.54 776.94,73.11 777.96,72.68 778.99,72.24 780.02,71.81 781.04,71.38 782.07,70.94 783.09,70.51 784.12,70.08 785.15,69.64 786.17,69.21 787.2,68.78 788.22,68.34 789.25,67.91 790.28,67.48 791.3,67.04 792.33,66.61 793.35,66.18 794.38,65.74 795.41,65.31 796.43,64.88 797.46,64.44 798.48,64.01 799.51,63.58 800.54,63.14 801.56,62.71 802.59,62.28 803.61,61.85 804.64,61.41 805.67,60.98 806.69,60.55 807.72,60.11 808.74,59.68 809.77,59.25 810.8,58.81 811.82,58.38 812.85,57.95 813.87,57.51 814.9,57.08 815.93,56.65 816.95,56.21 817.98,55.78 819,55.35 820.03,54.91 821.06,54.48 822.08,54.05 823.11,53.61 824.13,53.18 825.16,52.75 826.19,52.31 827.21,51.88 828.24,51.45 829.26,51.02 830.29,50.58 831.32,50.15 832.34,49.72 833.37,49.28 834.39,48.85 835.42,48.42 836.45,47.98 837.47,47.55 838.5,47.12 839.52,46.68 840.55,46.25 841.58,45.82 842.6,45.38 843.63,44.95 844.65,44.52 845.68,44.08 846.71,43.65 847.73,43.22 848.76,42.78 849.78,42.35 850.81,41.92 851.84,41.48 852.86,41.05 853.89,40.62 854.91,40.19 855.94,39.75 856.97,39.32 857.99,38.89 859.02,38.45 860.04,38.02 861.07,37.59 862.1,37.15 863.12,36.72 864.15,36.29 865.17,35.85 866.2,35.42 867.23,34.99 868.25,34.55 869.28,34.12 870.3,33.69 871.33,33.25 872.36,32.82 873.38,32.39 874.41,31.95 875.43,31.52 876.46,31.09 877.49,30.65 878.51,30.22 879.54,29.79 880.56,29.36 881.59,28.92 882.62,28.49 883.64,28.06 884.67,27.62 885.69,27.19 886.72,26.76 887.75,26.32 888.77,25.89 889.8,25.46 890.82,25.02 891.85,24.59 892.88,24.16 893.9,23.72 894.93,23.29 895.95,22.86 896.98,22.42 898.01,21.99 899.03,21.56 900.06,21.12 901.08,20.69 902.11,20.26 903.14,19.82 904.16,19.39 905.19,18.96 906.21,18.53 907.24,18.09 908.27,17.66 909.29,17.23 910.32,16.79 911.34,16.36 912.37,15.93 913.4,15.49 914.42,15.06 915.45,14.63 916.47,14.19 917.5,13.76" fill="none" stroke="#ff0000" stroke-width="2.05" stroke-linecap="square" stroke-linejoin="round"/>
<polyline points="712.3,100.4 713.33,99.97 714.35,99.53 715.38,99.1 716.4,98.67 717.43,98.24 718.46,97.8 719.48,97.37 720.51,96.94 721.53,96.51 722.56,96.08 723.59,95.65 724.61,95.22 725.64,94.79 726.66,94.36 727.69,93.93 728.72,93.5 729.74,93.07 730.77,92.64 731.79,92.21 732.82,91.78 733.85,91.35 734.87,90.92 735.9,90.5 736.92,90.07 737.95,89.64 738.98,89.21 740,88.79 741.03,88.36 742.05,87.93 743.08,87.51 744.11,87.08 745.13,86.65 746.16,86.23 747.18,85.8 748.21,85.38 749.24,84.95 750.26,84.53 751.29,84.1 752.31,83.68 753.34,83.25 754.37,82.83 755.39,82.41 756.42,81.98 757.44,81.56 758.47,81.14 759.5,80.71 760.52,80.29 761.55,79.87 762.57,79.45 763.6,79.03 764.63,78.6 765.65,78.18 766.68,77.76 767.7,77.34 768.73,76.92 769.76,76.5 770.78,76.08 771.81,75.66 772.83,75.24 773.86,74.82 774.89,74.4 775.91,73.98 776.94,73.56 777.96,73.14 778.99,72.72 780.02,72.31 781.04,71.89 782.07,71.47 783.09,71.05 784.12,70.63 785.15,70.22 786.17,69.8 787.2,69.38 788.22,68.97 789.25,68.55 790.28,68.14 791.3,67.72 792.33,67.3 793.35,66.89 794.38,66.47 795.41,66.06 796.43,65.64 797.46,65.23 798.48,64.82 799.51,64.4 800.54,63.99 801.56,63.57 802.59,63.16 803.61,62.75 804.64,62.34 805.67,61.92 806.69,61.51 807.72,61.1 808.74,60.69 809.77,60.27 810.8,59.86 811.82,59.45 812.85,59.04 813.87,58.63 814.9,58.22 815.93,57.81 816.95,57.4 817.98,56.99 819,56.58 820.03,56.17 821.06,55.76 822.08,55.35 823.11,54.94 824.13,54.54 825.16,54.13 826.19,53.72 827.21,53.31 828.24,52.9 829.26,52.5 830.29,52.09 831.32,51.68 832.34,51.28 833.37,50.87 834.39,50.46 835.42,50.06 836.45,49.65 837.47,49.25 838.5,48.84 839.52,48.44 840.55,48.03 841.58,47.63 842.6,47.22 843.63,46.82 844.65,46.41 845.68,46.01 846.71,45.61 847.73,45.2 848.76,44.8 849.78,44.4 850.81,44 851.84,43.59 852.86,43.19 853.89,42.79 854.91,42.39 855.94,41.99 856.97,41.59 857.99,41.18 859.02,40.78 860.04,40.38 861.07,39.98 862.1,39.58 863.12,39.18 864.15,38.78 865.17,38.38 866.2,37.99 867.23,37.59 868.25,37.19 869.28,36.79 870.3,36.39 871.33,35.99 872.36,35.6 873.38,35.2 874.41,34.8 875.43,34.4 876.46,34.01 877.49,33.61 878.51,33.21 879.54,32.82 880.56,32.42 881.59,32.03 882.62,31.63 883.64,31.23 884.67,30.84 885.69,30.45 886.72,30.05 887.75,29.66 888.77,29.26 889.8,28.87 890.82,28.47 891.85,28.08 892.88,27.69 893.9,27.3 894.93,26.9 895.95,26.51 896.98,26.12 898.01,25.73 899.03,25.33 900.06,24.94 901.08,24.55 902.11,24.16 903.14,23.77 904.16,23.38 905.19,22.99 906.21,22.6 907.24,22.21 908.27,21.82 909.29,21.43 910.32,21.04 911.34,20.65 912.37,20.26 913.4,19.87 914.42,19.48 915.45,19.1 916.47,18.71 917.5,18.32" fill="none" stroke="#21aa12" stroke-width="2.05" stroke-linecap="square" stroke-linejoin="round"/>
<polyline points="712.3,100.4 713.33,99.97 714.35,99.53 715.38,99.1 716.4,98.67 717.43,98.24 718.46,97.81 719.48,97.38 720.51,96.95 721.53,96.52 722.56,96.09 723.59,95.67 724.61,95.24 725.64,94.82 726.66,94.4 727.69,93.98 728.72,93.56 729.74,93.14 730.77,92.72 731.79,92.31 732.82,91.9 733.85,91.49 734.87,91.08 735.9,90.67 736.92,90.27 737.95,89.86 738.98,89.47 740,89.07 741.03,88.67 742.05,88.28 743.08,87.89 744.11,87.51 745.13,87.12 746.16,86.74 747.18,86.36 748.21,85.99 749.24,85.62 750.26,85.25 751.29,84.89 752.31,84.53 753.34,84.17 754.37,83.82 755.39,83.47 756.42,83.12 757.44,82.78 758.47,82.44 759.5,82.11 760.52,81.78 761.55,81.45 762.57,81.13 763.6,80.81 764.63,80.5 765.65,80.19 766.68,79.89 767.7,79.59 768.73,79.3 769.76,79.01 770.78,78.73 771.81,78.45 772.83,78.17 773.86,77.91 774.89,77.64 775.91,77.39 776.94,77.14 777.96,76.89 778.99,76.65 780.02,76.42 781.04,76.19 782.07,75.97 783.09,75.75 784.12,75.54 785.15,75.33 786.17,75.14 787.2,74.95 788.22,74.76 789.25,74.58 790.28,74.41 791.3,74.25 792.33,74.09 793.35,73.94 794.38,73.79 795.41,73.66 796.43,73.53 797.46,73.4 798.48,73.29 799.51,73.18 800.54,73.08 801.56,72.99 802.59,72.9 803.61,72.83 804.64,72.76 805.67,72.7 806.69,72.64 807.72,72.6 808.74,72.56 809.77,72.53 810.8,72.51 811.82,72.5 812.85,72.5 813.87,72.5 814.9,72.52 815.93,72.54 816.95,72.57 817.98,72.61 819,72.66 820.03,72.72 821.06,72.79 822.08,72.87 823.11,72.95 824.13,73.05 825.16,73.16 826.19,73.27 827.21,73.4 828.24,73.53 829.26,73.68 830.29,73.83 831.32,74 832.34,74.18 833.37,74.36 834.39,74.56 835.42,74.76 836.45,74.98 837.47,75.21 838.5,75.45 839.52,75.7 840.55,75.96 841.58,76.23 842.6,76.51 843.63,76.8 844.65,77.11 845.68,77.42 846.71,77.75 847.73,78.09 848.76,78.44 849.78,78.8 850.81,79.17 851.84,79.56 852.86,79.96 853.89,80.36 854.91,80.79 855.94,81.22 856.97,81.66 857.99,82.12 859.02,82.59 860.04,83.08 861.07,83.57 862.1,84.08 863.12,84.6 864.15,85.13 865.17,85.68 866.2,86.24 867.23,86.81 868.25,87.4 869.28,88 870.3,88.61 871.33,89.23 872.36,89.87 873.38,90.53 874.41,91.19 875.43,91.87 876.46,92.57 877.49,93.28 878.51,94 879.54,94.74 880.56,95.49 881.59,96.25 882.62,97.03 883.64,97.83 884.67,98.63 885.69,99.46 886.72,100.29 887.75,101.15 888.77,102.01 889.8,102.9 890.82,103.79 891.85,104.71 892.88,105.63 893.9,106.58 894.93,107.54 895.95,108.51 896.98,109.5 898.01,110.51 899.03,111.53 900.06,112.56 901.08,113.62 902.11,114.69 903.14,115.77 904.16,116.87 905.19,117.99 906.21,119.12 907.24,120.27 908.27,121.44 909.29,122.62 910.32,123.82 911.34,125.04 912.37,126.28 913.4,127.53 914.42,128.79 915.45,130.08 916.47,131.38 917.5,132.7" fill="none" stroke="#2ac9ea" stroke-width="2.05" stroke-linecap="square" stroke-linejoin="round"/>
<polyline points="712.3,100.4 713.33,99.97 714.35,99.53 715.38,99.1 716.4,98.67 717.43,98.24 718.46,97.81 719.48,97.38 720.51,96.95 721.53,96.52 722.56,96.09 723.59,95.67 724.61,95.24 725.64,94.82 726.66,94.4 727.69,93.98 728.72,93.56 729.74,93.14 730.77,92.72 731.79,92.31 732.82,91.89 733.85,91.48 734.87,91.07 735.9,90.67 736.92,90.26 737.95,89.86 738.98,89.46 740,89.06 741.03,88.67 742.05,88.27 743.08,87.88 744.11,87.5 745.13,87.11 746.16,86.73 747.18,86.35 748.21,85.98 749.24,85.6 750.26,85.23 751.29,84.87 752.31,84.5 753.34,84.14 754.37,83.79 755.39,83.43 756.42,83.09 757.44,82.74 758.47,82.4 759.5,82.06 760.52,81.73 761.55,81.4 762.57,81.07 763.6,80.75 764.63,80.43 765.65,80.12 766.68,79.81 767.7,79.51 768.73,79.21 769.76,78.91 770.78,78.62 771.81,78.33 772.83,78.05 773.86,77.78 774.89,77.51 775.91,77.24 776.94,76.98 777.96,76.72 778.99,76.47 780.02,76.23 781.04,75.99 782.07,75.75 783.09,75.52 784.12,75.3 785.15,75.08 786.17,74.87 787.2,74.66 788.22,74.46 789.25,74.27 790.28,74.08 791.3,73.9 792.33,73.72 793.35,73.55 794.38,73.39 795.41,73.23 796.43,73.08 797.46,72.93 798.48,72.79 799.51,72.66 800.54,72.54 801.56,72.42 802.59,72.31 803.61,72.2 804.64,72.1 805.67,72.01 806.69,71.93 807.72,71.85 808.74,71.78 809.77,71.72 810.8,71.67 811.82,71.62 812.85,71.58 813.87,71.55 814.9,71.52 815.93,71.5 816.95,71.49 817.98,71.49 819,71.5 820.03,71.51 821.06,71.53 822.08,71.56 823.11,71.6 824.13,71.64 825.16,71.7 826.19,71.76 827.21,71.83 828.24,71.91 829.26,71.99 830.29,72.09 831.32,72.19 832.34,72.31 833.37,72.43 834.39,72.56 835.42,72.7 836.45,72.84 837.47,73 838.5,73.16 839.52,73.34 840.55,73.52 841.58,73.71 842.6,73.91 843.63,74.12 844.65,74.34 845.68,74.57 846.71,74.81 847.73,75.06 848.76,75.32 849.78,75.58 850.81,75.86 851.84,76.15 852.86,76.44 853.89,76.75 854.91,77.06 855.94,77.39 856.97,77.72 857.99,78.07 859.02,78.42 860.04,78.79 861.07,79.16 862.1,79.55 863.12,79.94 864.15,80.35 865.17,80.76 866.2,81.19 867.23,81.63 868.25,82.07 869.28,82.53 870.3,83 871.33,83.48 872.36,83.97 873.38,84.47 874.41,84.98 875.43,85.5 876.46,86.03 877.49,86.58 878.51,87.13 879.54,87.69 880.56,88.27 881.59,88.86 882.62,89.46 883.64,90.07 884.67,90.69 885.69,91.32 886.72,91.96 887.75,92.62 888.77,93.28 889.8,93.96 890.82,94.65 891.85,95.35 892.88,96.06 893.9,96.79 894.93,97.52 895.95,98.27 896.98,99.03 898.01,99.8 899.03,100.58 900.06,101.38 901.08,102.18 902.11,103 903.14,103.83 904.16,104.67 905.19,105.53 906.21,106.4 907.24,107.27 908.27,108.17 909.29,109.07 910.32,109.98 911.34,110.91 912.37,111.85 913.4,112.8 914.42,113.77 915.45,114.75 916.47,115.74 917.5,116.74" fill="none" stroke="#0000ff" stroke-width="2.05" stroke-linecap="square" stroke-linejoin="round"/>
<path d="M712.3 139.5v-2.8M722.56 139.5v-1.8M732.82 139.5v-1.8M743.08 139.5v-1.8M753.34 139.5v-2.8M763.6 139.5v-1.8M773.86 139.5v-1.8M784.12 139.5v-1.8M794.38 139.5v-2.8M804.64 139.5v-1.8M814.9 139.5v-1.8M825.16 139.5v-1.8M835.42 139.5v-2.8M845.68 139.5v-1.8M855.94 139.5v-1.8M866.2 139.5v-1.8M876.46 139.5v-2.8M886.72 139.5v-1.8M896.98 139.5v-1.8M907.24 139.5v-1.8M917.5 139.5v-2.8M708.4 138.4h2.8M708.4 134.6h1.8M708.4 130.8h1.8M708.4 127h1.8M708.4 123.2h1.8M708.4 119.4h2.8M708.4 115.6h1.8M708.4 111.8h1.8M708.4 108h1.8M708.4 104.2h1.8M708.4 100.4h2.8M708.4 96.6h1.8M708.4 92.8h1.8M708.4 89h1.8M708.4 85.2h1.8M708.4 81.4h2.8M708.4 77.6h1.8M708.4 73.8h1.8M708.4 70h1.8M708.4 66.2h1.8M708.4 62.4h2.8M708.4 58.6h1.8M708.4 54.8h1.8M708.4 51h1.8M708.4 47.2h1.8M708.4 43.4h2.8M708.4 39.6h1.8M708.4 35.8h1.8M708.4 32h1.8M708.4 28.2h1.8M708.4 24.4h2.8M708.4 20.6h1.8M708.4 16.8h1.8M708.4 13h1.8M708.4 9.2h1.8" stroke="#a0a0a0" stroke-width="0.85" fill="none"/>
<path d="M712.3 7.3v2.3M722.56 7.3v1.5M732.82 7.3v1.5M743.08 7.3v1.5M753.34 7.3v2.3M763.6 7.3v1.5M773.86 7.3v1.5M784.12 7.3v1.5M794.38 7.3v2.3M804.64 7.3v1.5M814.9 7.3v1.5M825.16 7.3v1.5M835.42 7.3v2.3M845.68 7.3v1.5M855.94 7.3v1.5M866.2 7.3v1.5M876.46 7.3v2.3M886.72 7.3v1.5M896.98 7.3v1.5M907.24 7.3v1.5M917.5 7.3v2.3M921.6 138.4h-2.3M921.6 134.6h-1.5M921.6 130.8h-1.5M921.6 127h-1.5M921.6 123.2h-1.5M921.6 119.4h-2.3M921.6 115.6h-1.5M921.6 111.8h-1.5M921.6 108h-1.5M921.6 104.2h-1.5M921.6 100.4h-2.3M921.6 96.6h-1.5M921.6 92.8h-1.5M921.6 89h-1.5M921.6 85.2h-1.5M921.6 81.4h-2.3M921.6 77.6h-1.5M921.6 73.8h-1.5M921.6 70h-1.5M921.6 66.2h-1.5M921.6 62.4h-2.3M921.6 58.6h-1.5M921.6 54.8h-1.5M921.6 51h-1.5M921.6 47.2h-1.5M921.6 43.4h-2.3M921.6 39.6h-1.5M921.6 35.8h-1.5M921.6 32h-1.5M921.6 28.2h-1.5M921.6 24.4h-2.3M921.6 20.6h-1.5M921.6 16.8h-1.5M921.6 13h-1.5M921.6 9.2h-1.5" stroke="#bebebe" stroke-width="0.8" fill="none"/>
<rect x="708.4" y="7.3" width="213.2" height="132.2" fill="none" stroke="#a2a2a2" stroke-width="1"/>
<text x="712.45" y="151.85" text-anchor="middle">0</text>
<text x="753.49" y="151.85" text-anchor="middle">20</text>
<text x="794.53" y="151.85" text-anchor="middle">40</text>
<text x="835.57" y="151.85" text-anchor="middle">60</text>
<text x="876.61" y="151.85" text-anchor="middle">80</text>
<text x="917.65" y="151.85" text-anchor="middle">100</text>
<text x="706.4" y="28.45" text-anchor="end">20</text>
<text x="706.4" y="47.45" text-anchor="end">15</text>
<text x="706.4" y="66.45" text-anchor="end">10</text>
<text x="706.4" y="85.45" text-anchor="end">5</text>
<text x="706.4" y="104.45" text-anchor="end">0</text>
<text x="706.4" y="123.45" text-anchor="end"><tspan dy="0.6" style="font-weight:normal">−</tspan><tspan dx="1.0" dy="-0.6">5</tspan></text>
<text x="706.4" y="142.45" text-anchor="end"><tspan dy="0.6" style="font-weight:normal">−</tspan><tspan dx="1.0" dy="-0.6">10</tspan></text>
<line x1="934.9" y1="60.9" x2="947.7" y2="60.9" stroke="#ff0000" stroke-width="1.9"/>
<text x="954.1" y="63.5">n=0</text>
<line x1="934.9" y1="79.8" x2="947.7" y2="79.8" stroke="#21aa12" stroke-width="1.9"/>
<text x="954.1" y="82.4">n=1</text>
<line x1="934.9" y1="98.7" x2="947.7" y2="98.7" stroke="#2ac9ea" stroke-width="1.9"/>
<text x="954.1" y="101.3">n=2</text>
<line x1="934.9" y1="117.6" x2="947.7" y2="117.6" stroke="#0000ff" stroke-width="1.9"/>
<text x="954.1" y="120.2">n=3</text>
<g transform="translate(868.9,65.4) scale(1,0.95)"><path d="M5.9 -6.2C4.6 -6.6 3.2 -6.4 2.3 -5.8C1.1 -5 0.45 -3.9 0.45 -2.6C0.45 -1.1 1.3 -0.35 2.6 -0.35C3.5 -0.35 4.2 -0.55 4.8 -0.95M1 -3.4H4.6" fill="none" stroke="#000" stroke-width="1.05"/></g>
<text x="874.6" y="67.4" style="font-size:8.0px;stroke:#000;stroke-width:0.3px">19</text>
</g>
<g>
<polyline points="42.3,355.5 43.36,355.12 44.42,354.75 45.49,354.37 46.55,353.99 47.61,353.61 48.67,353.24 49.73,352.86 50.8,352.48 51.86,352.1 52.92,351.73 53.98,351.35 55.04,350.97 56.11,350.6 57.17,350.22 58.23,349.84 59.29,349.46 60.35,349.09 61.42,348.71 62.48,348.33 63.54,347.95 64.6,347.58 65.66,347.2 66.73,346.82 67.79,346.44 68.85,346.07 69.91,345.69 70.97,345.31 72.04,344.94 73.1,344.56 74.16,344.18 75.22,343.8 76.28,343.43 77.35,343.05 78.41,342.67 79.47,342.29 80.53,341.92 81.59,341.54 82.66,341.16 83.72,340.79 84.78,340.41 85.84,340.03 86.9,339.65 87.97,339.28 89.03,338.9 90.09,338.52 91.15,338.14 92.21,337.77 93.28,337.39 94.34,337.01 95.4,336.63 96.46,336.26 97.52,335.88 98.59,335.5 99.65,335.13 100.71,334.75 101.77,334.37 102.83,333.99 103.9,333.62 104.96,333.24 106.02,332.86 107.08,332.48 108.14,332.11 109.21,331.73 110.27,331.35 111.33,330.98 112.39,330.6 113.45,330.22 114.52,329.84 115.58,329.47 116.64,329.09 117.7,328.71 118.76,328.33 119.83,327.96 120.89,327.58 121.95,327.2 123.01,326.83 124.07,326.45 125.14,326.07 126.2,325.69 127.26,325.32 128.32,324.94 129.38,324.56 130.45,324.18 131.51,323.81 132.57,323.43 133.63,323.05 134.69,322.67 135.76,322.3 136.82,321.92 137.88,321.54 138.94,321.17 140,320.79 141.07,320.41 142.13,320.03 143.19,319.66 144.25,319.28 145.31,318.9 146.38,318.52 147.44,318.15 148.5,317.77 149.56,317.39 150.62,317.02 151.69,316.64 152.75,316.26 153.81,315.88 154.87,315.51 155.93,315.13 157,314.75 158.06,314.37 159.12,314 160.18,313.62 161.24,313.24 162.31,312.87 163.37,312.49 164.43,312.11 165.49,311.73 166.55,311.36 167.62,310.98 168.68,310.6 169.74,310.22 170.8,309.85 171.86,309.47 172.93,309.09 173.99,308.71 175.05,308.34 176.11,307.96 177.17,307.58 178.24,307.21 179.3,306.83 180.36,306.45 181.42,306.07 182.48,305.7 183.55,305.32 184.61,304.94 185.67,304.56 186.73,304.19 187.79,303.81 188.86,303.43 189.92,303.06 190.98,302.68 192.04,302.3 193.1,301.92 194.17,301.55 195.23,301.17 196.29,300.79 197.35,300.41 198.41,300.04 199.48,299.66 200.54,299.28 201.6,298.9 202.66,298.53 203.72,298.15 204.79,297.77 205.85,297.4 206.91,297.02 207.97,296.64 209.03,296.26 210.1,295.89 211.16,295.51 212.22,295.13 213.28,294.75 214.34,294.38 215.41,294 216.47,293.62 217.53,293.25 218.59,292.87 219.65,292.49 220.72,292.11 221.78,291.74 222.84,291.36 223.9,290.98 224.96,290.6 226.03,290.23 227.09,289.85 228.15,289.47 229.21,289.1 230.27,288.72 231.34,288.34 232.4,287.96 233.46,287.59 234.52,287.21 235.58,286.83 236.65,286.45 237.71,286.08 238.77,285.7 239.83,285.32 240.89,284.94 241.96,284.57 243.02,284.19 244.08,283.81 245.14,283.44 246.2,283.06 247.27,282.68 248.33,282.3 249.39,281.93 250.45,281.55 251.51,281.17 252.58,280.79 253.64,280.42 254.7,280.04" fill="none" stroke="#ff0000" stroke-width="2.05" stroke-linecap="square" stroke-linejoin="round"/>
<polyline points="42.3,355.5 43.36,355.12 44.42,354.74 45.49,354.36 46.55,353.97 47.61,353.58 48.67,353.19 49.73,352.8 50.8,352.41 51.86,352.01 52.92,351.61 53.98,351.21 55.04,350.8 56.11,350.4 57.17,349.99 58.23,349.58 59.29,349.16 60.35,348.75 61.42,348.33 62.48,347.91 63.54,347.49 64.6,347.06 65.66,346.63 66.73,346.2 67.79,345.77 68.85,345.34 69.91,344.9 70.97,344.46 72.04,344.02 73.1,343.58 74.16,343.13 75.22,342.68 76.28,342.23 77.35,341.78 78.41,341.32 79.47,340.87 80.53,340.4 81.59,339.94 82.66,339.48 83.72,339.01 84.78,338.54 85.84,338.07 86.9,337.59 87.97,337.12 89.03,336.64 90.09,336.16 91.15,335.67 92.21,335.19 93.28,334.7 94.34,334.21 95.4,333.72 96.46,333.22 97.52,332.73 98.59,332.23 99.65,331.72 100.71,331.22 101.77,330.71 102.83,330.2 103.9,329.69 104.96,329.18 106.02,328.66 107.08,328.14 108.14,327.62 109.21,327.1 110.27,326.57 111.33,326.05 112.39,325.52 113.45,324.98 114.52,324.45 115.58,323.91 116.64,323.37 117.7,322.83 118.76,322.29 119.83,321.74 120.89,321.19 121.95,320.64 123.01,320.08 124.07,319.53 125.14,318.97 126.2,318.41 127.26,317.85 128.32,317.28 129.38,316.71 130.45,316.15 131.51,315.57 132.57,315 133.63,314.42 134.69,313.84 135.76,313.26 136.82,312.68 137.88,312.09 138.94,311.5 140,310.91 141.07,310.32 142.13,309.72 143.19,309.12 144.25,308.52 145.31,307.92 146.38,307.32 147.44,306.71 148.5,306.1 149.56,305.49 150.62,304.87 151.69,304.26 152.75,303.64 153.81,303.02 154.87,302.39 155.93,301.77 157,301.14 158.06,300.51 159.12,299.88 160.18,299.24 161.24,298.6 162.31,297.96 163.37,297.32 164.43,296.68 165.49,296.03 166.55,295.38 167.62,294.73 168.68,294.08 169.74,293.42 170.8,292.76 171.86,292.1 172.93,291.44 173.99,290.77 175.05,290.1 176.11,289.43 177.17,288.76 178.24,288.09 179.3,287.41 180.36,286.73 181.42,286.05 182.48,285.36 183.55,284.68 184.61,283.99 185.67,283.3 186.73,282.6 187.79,281.91 188.86,281.21 189.92,280.51 190.98,279.81 192.04,279.1 193.1,278.39 194.17,277.68 195.23,276.97 196.29,276.26 197.35,275.54 198.41,274.82 199.48,274.1 200.54,273.38 201.6,272.65 202.66,271.92 203.72,271.19 204.79,270.46 205.85,269.72 206.91,268.98 207.97,268.24 209.03,267.5 210.1,266.76 211.16,266.01 212.22,265.26 213.28,264.51 214.34,263.75 215.41,263 216.47,262.24 217.53,261.48 218.59,260.71 219.65,259.95 220.72,259.18 221.78,258.41 222.84,257.63 223.9,256.86 224.96,256.08 226.03,255.3 227.09,254.52 228.15,253.74 229.21,252.95 230.27,252.16 231.34,251.37 232.4,250.57 233.46,249.78 234.52,248.98 235.58,248.18 236.65,247.37 237.71,246.57 238.77,245.76 239.83,244.95 240.89,244.14 241.96,243.32 243.02,242.51 244.08,241.69 245.14,240.86 246.2,240.04 247.27,239.21 248.33,238.39 249.39,237.55 250.45,236.72 251.51,235.88 252.58,235.05 253.64,234.21 254.7,233.36" fill="none" stroke="#21aa12" stroke-width="2.05" stroke-linecap="square" stroke-linejoin="round"/>
<polyline points="42.3,355.5 43.36,355.12 44.42,354.74 45.49,354.36 46.55,353.97 47.61,353.58 48.67,353.19 49.73,352.8 50.8,352.4 51.86,352.01 52.92,351.61 53.98,351.2 55.04,350.8 56.11,350.39 57.17,349.98 58.23,349.57 59.29,349.16 60.35,348.74 61.42,348.32 62.48,347.9 63.54,347.47 64.6,347.05 65.66,346.62 66.73,346.19 67.79,345.75 68.85,345.32 69.91,344.88 70.97,344.44 72.04,344 73.1,343.55 74.16,343.1 75.22,342.65 76.28,342.2 77.35,341.74 78.41,341.29 79.47,340.83 80.53,340.36 81.59,339.9 82.66,339.43 83.72,338.96 84.78,338.49 85.84,338.01 86.9,337.54 87.97,337.06 89.03,336.58 90.09,336.09 91.15,335.61 92.21,335.12 93.28,334.63 94.34,334.13 95.4,333.64 96.46,333.14 97.52,332.64 98.59,332.13 99.65,331.63 100.71,331.12 101.77,330.61 102.83,330.1 103.9,329.58 104.96,329.06 106.02,328.54 107.08,328.02 108.14,327.5 109.21,326.97 110.27,326.44 111.33,325.91 112.39,325.37 113.45,324.84 114.52,324.3 115.58,323.76 116.64,323.21 117.7,322.67 118.76,322.12 119.83,321.57 120.89,321.01 121.95,320.46 123.01,319.9 124.07,319.34 125.14,318.77 126.2,318.21 127.26,317.64 128.32,317.07 129.38,316.5 130.45,315.92 131.51,315.34 132.57,314.76 133.63,314.18 134.69,313.6 135.76,313.01 136.82,312.42 137.88,311.83 138.94,311.23 140,310.64 141.07,310.04 142.13,309.44 143.19,308.83 144.25,308.23 145.31,307.62 146.38,307.01 147.44,306.39 148.5,305.78 149.56,305.16 150.62,304.54 151.69,303.91 152.75,303.29 153.81,302.66 154.87,302.03 155.93,301.4 157,300.76 158.06,300.13 159.12,299.49 160.18,298.84 161.24,298.2 162.31,297.55 163.37,296.9 164.43,296.25 165.49,295.6 166.55,294.94 167.62,294.28 168.68,293.62 169.74,292.95 170.8,292.29 171.86,291.62 172.93,290.95 173.99,290.27 175.05,289.6 176.11,288.92 177.17,288.24 178.24,287.56 179.3,286.87 180.36,286.18 181.42,285.49 182.48,284.8 183.55,284.11 184.61,283.41 185.67,282.71 186.73,282.01 187.79,281.3 188.86,280.59 189.92,279.88 190.98,279.17 192.04,278.46 193.1,277.74 194.17,277.02 195.23,276.3 196.29,275.58 197.35,274.85 198.41,274.12 199.48,273.39 200.54,272.66 201.6,271.92 202.66,271.18 203.72,270.44 204.79,269.7 205.85,268.95 206.91,268.21 207.97,267.46 209.03,266.7 210.1,265.95 211.16,265.19 212.22,264.43 213.28,263.67 214.34,262.9 215.41,262.14 216.47,261.37 217.53,260.6 218.59,259.82 219.65,259.04 220.72,258.27 221.78,257.48 222.84,256.7 223.9,255.91 224.96,255.13 226.03,254.33 227.09,253.54 228.15,252.74 229.21,251.95 230.27,251.15 231.34,250.34 232.4,249.54 233.46,248.73 234.52,247.92 235.58,247.11 236.65,246.29 237.71,245.47 238.77,244.65 239.83,243.83 240.89,243.01 241.96,242.18 243.02,241.35 244.08,240.52 245.14,239.68 246.2,238.85 247.27,238.01 248.33,237.17 249.39,236.32 250.45,235.48 251.51,234.63 252.58,233.78 253.64,232.92 254.7,232.07" fill="none" stroke="#2ac9ea" stroke-width="2.05" stroke-linecap="square" stroke-linejoin="round"/>
<polyline points="42.3,355.5 43.36,355.12 44.42,354.74 45.49,354.36 46.55,353.97 47.61,353.58 48.67,353.19 49.73,352.8 50.8,352.41 51.86,352.01 52.92,351.61 53.98,351.21 55.04,350.8 56.11,350.4 57.17,349.99 58.23,349.57 59.29,349.16 60.35,348.74 61.42,348.33 62.48,347.9 63.54,347.48 64.6,347.05 65.66,346.63 66.73,346.2 67.79,345.76 68.85,345.33 69.91,344.89 70.97,344.45 72.04,344.01 73.1,343.56 74.16,343.12 75.22,342.67 76.28,342.21 77.35,341.76 78.41,341.3 79.47,340.85 80.53,340.38 81.59,339.92 82.66,339.45 83.72,338.99 84.78,338.52 85.84,338.04 86.9,337.57 87.97,337.09 89.03,336.61 90.09,336.13 91.15,335.64 92.21,335.15 93.28,334.66 94.34,334.17 95.4,333.68 96.46,333.18 97.52,332.68 98.59,332.18 99.65,331.68 100.71,331.17 101.77,330.66 102.83,330.15 103.9,329.64 104.96,329.12 106.02,328.6 107.08,328.08 108.14,327.56 109.21,327.03 110.27,326.51 111.33,325.98 112.39,325.44 113.45,324.91 114.52,324.37 115.58,323.83 116.64,323.29 117.7,322.75 118.76,322.2 119.83,321.65 120.89,321.1 121.95,320.55 123.01,319.99 124.07,319.43 125.14,318.87 126.2,318.31 127.26,317.74 128.32,317.18 129.38,316.61 130.45,316.03 131.51,315.46 132.57,314.88 133.63,314.3 134.69,313.72 135.76,313.14 136.82,312.55 137.88,311.96 138.94,311.37 140,310.77 141.07,310.18 142.13,309.58 143.19,308.98 144.25,308.38 145.31,307.77 146.38,307.16 147.44,306.55 148.5,305.94 149.56,305.32 150.62,304.71 151.69,304.09 152.75,303.46 153.81,302.84 154.87,302.21 155.93,301.58 157,300.95 158.06,300.32 159.12,299.68 160.18,299.04 161.24,298.4 162.31,297.76 163.37,297.11 164.43,296.46 165.49,295.81 166.55,295.16 167.62,294.51 168.68,293.85 169.74,293.19 170.8,292.52 171.86,291.86 172.93,291.19 173.99,290.52 175.05,289.85 176.11,289.18 177.17,288.5 178.24,287.82 179.3,287.14 180.36,286.46 181.42,285.77 182.48,285.08 183.55,284.39 184.61,283.7 185.67,283 186.73,282.3 187.79,281.6 188.86,280.9 189.92,280.2 190.98,279.49 192.04,278.78 193.1,278.07 194.17,277.35 195.23,276.64 196.29,275.92 197.35,275.2 198.41,274.47 199.48,273.74 200.54,273.02 201.6,272.29 202.66,271.55 203.72,270.82 204.79,270.08 205.85,269.34 206.91,268.59 207.97,267.85 209.03,267.1 210.1,266.35 211.16,265.6 212.22,264.84 213.28,264.09 214.34,263.33 215.41,262.57 216.47,261.8 217.53,261.04 218.59,260.27 219.65,259.5 220.72,258.72 221.78,257.95 222.84,257.17 223.9,256.39 224.96,255.6 226.03,254.82 227.09,254.03 228.15,253.24 229.21,252.45 230.27,251.65 231.34,250.86 232.4,250.06 233.46,249.25 234.52,248.45 235.58,247.64 236.65,246.83 237.71,246.02 238.77,245.21 239.83,244.39 240.89,243.57 241.96,242.75 243.02,241.93 244.08,241.1 245.14,240.27 246.2,239.44 247.27,238.61 248.33,237.78 249.39,236.94 250.45,236.1 251.51,235.26 252.58,234.41 253.64,233.57 254.7,232.72" fill="none" stroke="#0000ff" stroke-width="2.05" stroke-linecap="square" stroke-linejoin="round"/>
<path d="M42.3 362.25v-2.8M52.92 362.25v-1.8M63.54 362.25v-1.8M74.16 362.25v-1.8M84.78 362.25v-2.8M95.4 362.25v-1.8M106.02 362.25v-1.8M116.64 362.25v-1.8M127.26 362.25v-2.8M137.88 362.25v-1.8M148.5 362.25v-1.8M159.12 362.25v-1.8M169.74 362.25v-2.8M180.36 362.25v-1.8M190.98 362.25v-1.8M201.6 362.25v-1.8M212.22 362.25v-2.8M222.84 362.25v-1.8M233.46 362.25v-1.8M244.08 362.25v-1.8M254.7 362.25v-2.8M37.8 360.89h1.8M37.8 355.5h2.8M37.8 350.11h1.8M37.8 344.72h1.8M37.8 339.33h1.8M37.8 333.94h2.8M37.8 328.55h1.8M37.8 323.16h1.8M37.8 317.77h1.8M37.8 312.38h2.8M37.8 306.99h1.8M37.8 301.6h1.8M37.8 296.21h1.8M37.8 290.82h2.8M37.8 285.43h1.8M37.8 280.04h1.8M37.8 274.65h1.8M37.8 269.26h2.8M37.8 263.87h1.8M37.8 258.48h1.8M37.8 253.09h1.8M37.8 247.7h2.8M37.8 242.31h1.8M37.8 236.92h1.8M37.8 231.53h1.8M37.8 226.14h2.8" stroke="#a0a0a0" stroke-width="0.85" fill="none"/>
<path d="M42.3 225.2v2.3M52.92 225.2v1.5M63.54 225.2v1.5M74.16 225.2v1.5M84.78 225.2v2.3M95.4 225.2v1.5M106.02 225.2v1.5M116.64 225.2v1.5M127.26 225.2v2.3M137.88 225.2v1.5M148.5 225.2v1.5M159.12 225.2v1.5M169.74 225.2v2.3M180.36 225.2v1.5M190.98 225.2v1.5M201.6 225.2v1.5M212.22 225.2v2.3M222.84 225.2v1.5M233.46 225.2v1.5M244.08 225.2v1.5M254.7 225.2v2.3M259.4 360.89h-1.5M259.4 355.5h-2.3M259.4 350.11h-1.5M259.4 344.72h-1.5M259.4 339.33h-1.5M259.4 333.94h-2.3M259.4 328.55h-1.5M259.4 323.16h-1.5M259.4 317.77h-1.5M259.4 312.38h-2.3M259.4 306.99h-1.5M259.4 301.6h-1.5M259.4 296.21h-1.5M259.4 290.82h-2.3M259.4 285.43h-1.5M259.4 280.04h-1.5M259.4 274.65h-1.5M259.4 269.26h-2.3M259.4 263.87h-1.5M259.4 258.48h-1.5M259.4 253.09h-1.5M259.4 247.7h-2.3M259.4 242.31h-1.5M259.4 236.92h-1.5M259.4 231.53h-1.5M259.4 226.14h-2.3" stroke="#bebebe" stroke-width="0.8" fill="none"/>
<rect x="37.8" y="225.2" width="221.6" height="137.05" fill="none" stroke="#a2a2a2" stroke-width="1"/>
<text x="42.45" y="374.6" text-anchor="middle">0</text>
<text x="84.93" y="374.6" text-anchor="middle">20</text>
<text x="127.41" y="374.6" text-anchor="middle">40</text>
<text x="169.89" y="374.6" text-anchor="middle">60</text>
<text x="212.37" y="374.6" text-anchor="middle">80</text>
<text x="254.85" y="374.6" text-anchor="middle">100</text>
<text x="36.2" y="230.19" text-anchor="end">12</text>
<text x="36.2" y="251.75" text-anchor="end">10</text>
<text x="36.2" y="273.31" text-anchor="end">8</text>
<text x="36.2" y="294.87" text-anchor="end">6</text>
<text x="36.2" y="316.43" text-anchor="end">4</text>
<text x="36.2" y="337.99" text-anchor="end">2</text>
<text x="36.2" y="359.55" text-anchor="end">0</text>
<text x="148.6" y="395.05" text-anchor="middle" style="font-style:italic;font-size:12.5px">k</text>
<path d="M146.3 385.45l2.25 -2.1l2.25 2.1" fill="none" stroke="#000" stroke-width="1.25"/>
<text transform="translate(15.9,294.6) rotate(-90)" text-anchor="middle" style="font-style:italic;font-weight:normal;font-size:13.6px">δ</text>
<line x1="272.6" y1="280.6" x2="285.4" y2="280.6" stroke="#ff0000" stroke-width="1.9"/>
<text x="291.8" y="283.2">n=0</text>
<line x1="272.6" y1="299.5" x2="285.4" y2="299.5" stroke="#21aa12" stroke-width="1.9"/>
<text x="291.8" y="302.1">n=1</text>
<line x1="272.6" y1="318.4" x2="285.4" y2="318.4" stroke="#2ac9ea" stroke-width="1.9"/>
<text x="291.8" y="321">n=2</text>
<line x1="272.6" y1="337.3" x2="285.4" y2="337.3" stroke="#0000ff" stroke-width="1.9"/>
<text x="291.8" y="339.9">n=3</text>
<text x="198.2" y="333.7" style="font-size:8.0px;stroke:#000;stroke-width:0.3px">3</text>
<text x="203.4" y="338.3">19</text>
<text x="216.8" y="340.3" style="font-size:8.0px;stroke:#000;stroke-width:0.3px">20</text>
</g>
<g>
<polyline points="367.2,357.5 368.29,356.86 369.39,356.23 370.48,355.59 371.57,354.96 372.67,354.32 373.76,353.69 374.85,353.05 375.95,352.42 377.04,351.78 378.13,351.15 379.23,350.51 380.32,349.88 381.42,349.24 382.51,348.61 383.6,347.97 384.7,347.34 385.79,346.7 386.88,346.07 387.98,345.43 389.07,344.8 390.16,344.16 391.26,343.53 392.35,342.89 393.44,342.26 394.54,341.62 395.63,340.99 396.72,340.35 397.82,339.72 398.91,339.08 400,338.45 401.1,337.81 402.19,337.18 403.29,336.54 404.38,335.91 405.47,335.27 406.57,334.64 407.66,334 408.75,333.37 409.85,332.73 410.94,332.1 412.03,331.46 413.13,330.83 414.22,330.19 415.31,329.56 416.41,328.92 417.5,328.29 418.59,327.65 419.69,327.02 420.78,326.38 421.88,325.75 422.97,325.11 424.06,324.48 425.16,323.84 426.25,323.21 427.34,322.57 428.44,321.94 429.53,321.3 430.62,320.67 431.72,320.03 432.81,319.4 433.9,318.76 435,318.13 436.09,317.49 437.18,316.86 438.28,316.22 439.37,315.59 440.46,314.95 441.56,314.32 442.65,313.68 443.75,313.05 444.84,312.41 445.93,311.78 447.03,311.14 448.12,310.51 449.21,309.87 450.31,309.24 451.4,308.6 452.49,307.97 453.59,307.33 454.68,306.7 455.77,306.06 456.87,305.43 457.96,304.79 459.05,304.16 460.15,303.52 461.24,302.89 462.33,302.25 463.43,301.62 464.52,300.98 465.62,300.35 466.71,299.71 467.8,299.08 468.9,298.44 469.99,297.81 471.08,297.17 472.18,296.54 473.27,295.9 474.36,295.27 475.46,294.63 476.55,294 477.64,293.36 478.74,292.73 479.83,292.09 480.92,291.46 482.02,290.82 483.11,290.19 484.2,289.55 485.3,288.92 486.39,288.28 487.49,287.65 488.58,287.01 489.67,286.38 490.77,285.74 491.86,285.11 492.95,284.47 494.05,283.84 495.14,283.2 496.23,282.57 497.33,281.93 498.42,281.3 499.51,280.66 500.61,280.03 501.7,279.39 502.79,278.76 503.89,278.12 504.98,277.49 506.07,276.85 507.17,276.22 508.26,275.58 509.36,274.95 510.45,274.31 511.54,273.68 512.64,273.04 513.73,272.41 514.82,271.77 515.92,271.14 517.01,270.5 518.1,269.87 519.2,269.23 520.29,268.6 521.38,267.96 522.48,267.33 523.57,266.69 524.66,266.06 525.76,265.42 526.85,264.79 527.94,264.15 529.04,263.52 530.13,262.88 531.23,262.25 532.32,261.61 533.41,260.98 534.51,260.34 535.6,259.71 536.69,259.07 537.79,258.44 538.88,257.8 539.97,257.17 541.07,256.53 542.16,255.9 543.25,255.26 544.35,254.62 545.44,253.99 546.53,253.35 547.63,252.72 548.72,252.08 549.81,251.45 550.91,250.81 552,250.18 553.1,249.54 554.19,248.91 555.28,248.27 556.38,247.64 557.47,247 558.56,246.37 559.66,245.73 560.75,245.1 561.84,244.46 562.94,243.83 564.03,243.19 565.12,242.56 566.22,241.92 567.31,241.29 568.4,240.65 569.5,240.02 570.59,239.38 571.68,238.75 572.78,238.11 573.87,237.48 574.96,236.84 576.06,236.21 577.15,235.57 578.25,234.94 579.34,234.3 580.43,233.67 581.53,233.03 582.62,232.4 583.71,231.76 584.81,231.13 585.9,230.49" fill="none" stroke="#ff0000" stroke-width="2.05" stroke-linecap="square" stroke-linejoin="round"/>
<polyline points="367.2,357.5 368.29,356.87 369.39,356.24 370.48,355.61 371.57,354.99 372.67,354.37 373.76,353.75 374.85,353.13 375.95,352.52 377.04,351.92 378.13,351.31 379.23,350.71 380.32,350.11 381.42,349.52 382.51,348.93 383.6,348.34 384.7,347.76 385.79,347.18 386.88,346.6 387.98,346.02 389.07,345.45 390.16,344.88 391.26,344.32 392.35,343.76 393.44,343.2 394.54,342.64 395.63,342.09 396.72,341.54 397.82,341 398.91,340.46 400,339.92 401.1,339.38 402.19,338.85 403.29,338.32 404.38,337.79 405.47,337.27 406.57,336.75 407.66,336.24 408.75,335.72 409.85,335.21 410.94,334.71 412.03,334.2 413.13,333.7 414.22,333.21 415.31,332.72 416.41,332.23 417.5,331.74 418.59,331.26 419.69,330.78 420.78,330.3 421.88,329.82 422.97,329.35 424.06,328.89 425.16,328.42 426.25,327.96 427.34,327.51 428.44,327.05 429.53,326.6 430.62,326.15 431.72,325.71 432.81,325.27 433.9,324.83 435,324.4 436.09,323.96 437.18,323.54 438.28,323.11 439.37,322.69 440.46,322.27 441.56,321.86 442.65,321.45 443.75,321.04 444.84,320.63 445.93,320.23 447.03,319.83 448.12,319.44 449.21,319.04 450.31,318.66 451.4,318.27 452.49,317.89 453.59,317.51 454.68,317.13 455.77,316.76 456.87,316.39 457.96,316.02 459.05,315.66 460.15,315.3 461.24,314.95 462.33,314.59 463.43,314.24 464.52,313.9 465.62,313.55 466.71,313.21 467.8,312.88 468.9,312.54 469.99,312.21 471.08,311.89 472.18,311.56 473.27,311.24 474.36,310.93 475.46,310.61 476.55,310.3 477.64,309.99 478.74,309.69 479.83,309.39 480.92,309.09 482.02,308.8 483.11,308.51 484.2,308.22 485.3,307.93 486.39,307.65 487.49,307.38 488.58,307.1 489.67,306.83 490.77,306.56 491.86,306.3 492.95,306.03 494.05,305.78 495.14,305.52 496.23,305.27 497.33,305.02 498.42,304.78 499.51,304.53 500.61,304.29 501.7,304.06 502.79,303.83 503.89,303.6 504.98,303.37 506.07,303.15 507.17,302.93 508.26,302.71 509.36,302.5 510.45,302.29 511.54,302.09 512.64,301.88 513.73,301.68 514.82,301.49 515.92,301.29 517.01,301.1 518.1,300.92 519.2,300.73 520.29,300.55 521.38,300.38 522.48,300.2 523.57,300.03 524.66,299.87 525.76,299.7 526.85,299.54 527.94,299.38 529.04,299.23 530.13,299.08 531.23,298.93 532.32,298.79 533.41,298.65 534.51,298.51 535.6,298.37 536.69,298.24 537.79,298.11 538.88,297.99 539.97,297.87 541.07,297.75 542.16,297.64 543.25,297.52 544.35,297.42 545.44,297.31 546.53,297.21 547.63,297.11 548.72,297.01 549.81,296.92 550.91,296.83 552,296.75 553.1,296.67 554.19,296.59 555.28,296.51 556.38,296.44 557.47,296.37 558.56,296.3 559.66,296.24 560.75,296.18 561.84,296.12 562.94,296.07 564.03,296.02 565.12,295.98 566.22,295.93 567.31,295.89 568.4,295.86 569.5,295.82 570.59,295.79 571.68,295.77 572.78,295.74 573.87,295.72 574.96,295.7 576.06,295.69 577.15,295.68 578.25,295.67 579.34,295.67 580.43,295.67 581.53,295.67 582.62,295.68 583.71,295.69 584.81,295.7 585.9,295.71" fill="none" stroke="#21aa12" stroke-width="2.05" stroke-linecap="square" stroke-linejoin="round"/>
<polyline points="367.2,357.5 368.29,356.87 369.39,356.24 370.48,355.61 371.57,354.99 372.67,354.37 373.76,353.75 374.85,353.14 375.95,352.53 377.04,351.92 378.13,351.32 379.23,350.72 380.32,350.12 381.42,349.52 382.51,348.93 383.6,348.35 384.7,347.76 385.79,347.18 386.88,346.61 387.98,346.03 389.07,345.46 390.16,344.9 391.26,344.33 392.35,343.77 393.44,343.21 394.54,342.66 395.63,342.11 396.72,341.56 397.82,341.02 398.91,340.48 400,339.94 401.1,339.41 402.19,338.88 403.29,338.35 404.38,337.83 405.47,337.31 406.57,336.79 407.66,336.28 408.75,335.76 409.85,335.26 410.94,334.75 412.03,334.25 413.13,333.76 414.22,333.26 415.31,332.77 416.41,332.28 417.5,331.8 418.59,331.32 419.69,330.84 420.78,330.37 421.88,329.9 422.97,329.43 424.06,328.96 425.16,328.5 426.25,328.05 427.34,327.59 428.44,327.14 429.53,326.69 430.62,326.25 431.72,325.81 432.81,325.37 433.9,324.94 435,324.51 436.09,324.08 437.18,323.65 438.28,323.23 439.37,322.81 440.46,322.4 441.56,321.99 442.65,321.58 443.75,321.18 444.84,320.78 445.93,320.38 447.03,319.98 448.12,319.59 449.21,319.21 450.31,318.82 451.4,318.44 452.49,318.06 453.59,317.69 454.68,317.32 455.77,316.95 456.87,316.58 457.96,316.22 459.05,315.86 460.15,315.51 461.24,315.16 462.33,314.81 463.43,314.47 464.52,314.12 465.62,313.79 466.71,313.45 467.8,313.12 468.9,312.79 469.99,312.47 471.08,312.15 472.18,311.83 473.27,311.51 474.36,311.2 475.46,310.89 476.55,310.59 477.64,310.29 478.74,309.99 479.83,309.69 480.92,309.4 482.02,309.11 483.11,308.83 484.2,308.55 485.3,308.27 486.39,307.99 487.49,307.72 488.58,307.45 489.67,307.19 490.77,306.93 491.86,306.67 492.95,306.41 494.05,306.16 495.14,305.91 496.23,305.67 497.33,305.43 498.42,305.19 499.51,304.95 500.61,304.72 501.7,304.49 502.79,304.27 503.89,304.04 504.98,303.83 506.07,303.61 507.17,303.4 508.26,303.19 509.36,302.98 510.45,302.78 511.54,302.58 512.64,302.39 513.73,302.2 514.82,302.01 515.92,301.82 517.01,301.64 518.1,301.46 519.2,301.29 520.29,301.11 521.38,300.94 522.48,300.78 523.57,300.62 524.66,300.46 525.76,300.3 526.85,300.15 527.94,300 529.04,299.86 530.13,299.71 531.23,299.57 532.32,299.44 533.41,299.31 534.51,299.18 535.6,299.05 536.69,298.93 537.79,298.81 538.88,298.7 539.97,298.58 541.07,298.47 542.16,298.37 543.25,298.27 544.35,298.17 545.44,298.07 546.53,297.98 547.63,297.89 548.72,297.8 549.81,297.72 550.91,297.64 552,297.57 553.1,297.49 554.19,297.42 555.28,297.36 556.38,297.29 557.47,297.24 558.56,297.18 559.66,297.13 560.75,297.08 561.84,297.03 562.94,296.99 564.03,296.95 565.12,296.91 566.22,296.88 567.31,296.85 568.4,296.82 569.5,296.8 570.59,296.78 571.68,296.77 572.78,296.75 573.87,296.74 574.96,296.74 576.06,296.73 577.15,296.73 578.25,296.74 579.34,296.75 580.43,296.76 581.53,296.77 582.62,296.79 583.71,296.81 584.81,296.83 585.9,296.86" fill="none" stroke="#2ac9ea" stroke-width="2.05" stroke-linecap="square" stroke-linejoin="round"/>
<polyline points="367.2,357.5 368.29,356.87 369.39,356.24 370.48,355.61 371.57,354.99 372.67,354.37 373.76,353.75 374.85,353.14 375.95,352.53 377.04,351.92 378.13,351.31 379.23,350.71 380.32,350.12 381.42,349.52 382.51,348.93 383.6,348.34 384.7,347.76 385.79,347.18 386.88,346.6 387.98,346.03 389.07,345.46 390.16,344.89 391.26,344.33 392.35,343.76 393.44,343.21 394.54,342.65 395.63,342.1 396.72,341.55 397.82,341.01 398.91,340.47 400,339.93 401.1,339.39 402.19,338.86 403.29,338.34 404.38,337.81 405.47,337.29 406.57,336.77 407.66,336.26 408.75,335.74 409.85,335.24 410.94,334.73 412.03,334.23 413.13,333.73 414.22,333.23 415.31,332.74 416.41,332.25 417.5,331.77 418.59,331.29 419.69,330.81 420.78,330.33 421.88,329.86 422.97,329.39 424.06,328.93 425.16,328.46 426.25,328 427.34,327.55 428.44,327.1 429.53,326.65 430.62,326.2 431.72,325.76 432.81,325.32 433.9,324.88 435,324.45 436.09,324.02 437.18,323.6 438.28,323.17 439.37,322.75 440.46,322.34 441.56,321.92 442.65,321.51 443.75,321.11 444.84,320.7 445.93,320.3 447.03,319.91 448.12,319.51 449.21,319.12 450.31,318.74 451.4,318.35 452.49,317.97 453.59,317.6 454.68,317.22 455.77,316.85 456.87,316.49 457.96,316.12 459.05,315.76 460.15,315.41 461.24,315.05 462.33,314.7 463.43,314.35 464.52,314.01 465.62,313.67 466.71,313.33 467.8,313 468.9,312.67 469.99,312.34 471.08,312.02 472.18,311.7 473.27,311.38 474.36,311.06 475.46,310.75 476.55,310.44 477.64,310.14 478.74,309.84 479.83,309.54 480.92,309.25 482.02,308.96 483.11,308.67 484.2,308.38 485.3,308.1 486.39,307.82 487.49,307.55 488.58,307.28 489.67,307.01 490.77,306.74 491.86,306.48 492.95,306.22 494.05,305.97 495.14,305.72 496.23,305.47 497.33,305.22 498.42,304.98 499.51,304.74 500.61,304.51 501.7,304.28 502.79,304.05 503.89,303.82 504.98,303.6 506.07,303.38 507.17,303.16 508.26,302.95 509.36,302.74 510.45,302.54 511.54,302.33 512.64,302.14 513.73,301.94 514.82,301.75 515.92,301.56 517.01,301.37 518.1,301.19 519.2,301.01 520.29,300.83 521.38,300.66 522.48,300.49 523.57,300.32 524.66,300.16 525.76,300 526.85,299.85 527.94,299.69 529.04,299.54 530.13,299.4 531.23,299.25 532.32,299.11 533.41,298.98 534.51,298.84 535.6,298.71 536.69,298.59 537.79,298.46 538.88,298.34 539.97,298.23 541.07,298.11 542.16,298 543.25,297.89 544.35,297.79 545.44,297.69 546.53,297.59 547.63,297.5 548.72,297.41 549.81,297.32 550.91,297.24 552,297.16 553.1,297.08 554.19,297 555.28,296.93 556.38,296.87 557.47,296.8 558.56,296.74 559.66,296.68 560.75,296.63 561.84,296.58 562.94,296.53 564.03,296.49 565.12,296.44 566.22,296.41 567.31,296.37 568.4,296.34 569.5,296.31 570.59,296.29 571.68,296.27 572.78,296.25 573.87,296.23 574.96,296.22 576.06,296.21 577.15,296.21 578.25,296.21 579.34,296.21 580.43,296.21 581.53,296.22 582.62,296.23 583.71,296.25 584.81,296.26 585.9,296.29" fill="none" stroke="#0000ff" stroke-width="2.05" stroke-linecap="square" stroke-linejoin="round"/>
<path d="M367.2 364.25v-2.8M378.13 364.25v-1.8M389.07 364.25v-1.8M400 364.25v-1.8M410.94 364.25v-2.8M421.88 364.25v-1.8M432.81 364.25v-1.8M443.75 364.25v-1.8M454.68 364.25v-2.8M465.62 364.25v-1.8M476.55 364.25v-1.8M487.49 364.25v-1.8M498.42 364.25v-2.8M509.36 364.25v-1.8M520.29 364.25v-1.8M531.23 364.25v-1.8M542.16 364.25v-2.8M553.1 364.25v-1.8M564.03 364.25v-1.8M574.96 364.25v-1.8M585.9 364.25v-2.8M362.5 361.31h1.8M362.5 357.5h2.8M362.5 353.69h1.8M362.5 349.87h1.8M362.5 346.06h1.8M362.5 342.24h1.8M362.5 338.43h2.8M362.5 334.62h1.8M362.5 330.8h1.8M362.5 326.99h1.8M362.5 323.17h1.8M362.5 319.36h2.8M362.5 315.55h1.8M362.5 311.73h1.8M362.5 307.92h1.8M362.5 304.1h1.8M362.5 300.29h2.8M362.5 296.48h1.8M362.5 292.66h1.8M362.5 288.85h1.8M362.5 285.03h1.8M362.5 281.22h2.8M362.5 277.41h1.8M362.5 273.59h1.8M362.5 269.78h1.8M362.5 265.96h1.8M362.5 262.15h2.8M362.5 258.34h1.8M362.5 254.52h1.8M362.5 250.71h1.8M362.5 246.89h1.8M362.5 243.08h2.8M362.5 239.27h1.8M362.5 235.45h1.8M362.5 231.64h1.8M362.5 227.82h1.8M362.5 224.01h2.8" stroke="#a0a0a0" stroke-width="0.85" fill="none"/>
<path d="M367.2 223.35v2.3M378.13 223.35v1.5M389.07 223.35v1.5M400 223.35v1.5M410.94 223.35v2.3M421.88 223.35v1.5M432.81 223.35v1.5M443.75 223.35v1.5M454.68 223.35v2.3M465.62 223.35v1.5M476.55 223.35v1.5M487.49 223.35v1.5M498.42 223.35v2.3M509.36 223.35v1.5M520.29 223.35v1.5M531.23 223.35v1.5M542.16 223.35v2.3M553.1 223.35v1.5M564.03 223.35v1.5M574.96 223.35v1.5M585.9 223.35v2.3M590.7 361.31h-1.5M590.7 357.5h-2.3M590.7 353.69h-1.5M590.7 349.87h-1.5M590.7 346.06h-1.5M590.7 342.24h-1.5M590.7 338.43h-2.3M590.7 334.62h-1.5M590.7 330.8h-1.5M590.7 326.99h-1.5M590.7 323.17h-1.5M590.7 319.36h-2.3M590.7 315.55h-1.5M590.7 311.73h-1.5M590.7 307.92h-1.5M590.7 304.1h-1.5M590.7 300.29h-2.3M590.7 296.48h-1.5M590.7 292.66h-1.5M590.7 288.85h-1.5M590.7 285.03h-1.5M590.7 281.22h-2.3M590.7 277.41h-1.5M590.7 273.59h-1.5M590.7 269.78h-1.5M590.7 265.96h-1.5M590.7 262.15h-2.3M590.7 258.34h-1.5M590.7 254.52h-1.5M590.7 250.71h-1.5M590.7 246.89h-1.5M590.7 243.08h-2.3M590.7 239.27h-1.5M590.7 235.45h-1.5M590.7 231.64h-1.5M590.7 227.82h-1.5M590.7 224.01h-2.3" stroke="#bebebe" stroke-width="0.8" fill="none"/>
<rect x="362.5" y="223.35" width="228.2" height="140.9" fill="none" stroke="#a2a2a2" stroke-width="1"/>
<text x="367.35" y="376.6" text-anchor="middle">0</text>
<text x="411.09" y="376.6" text-anchor="middle">20</text>
<text x="454.83" y="376.6" text-anchor="middle">40</text>
<text x="498.57" y="376.6" text-anchor="middle">60</text>
<text x="542.31" y="376.6" text-anchor="middle">80</text>
<text x="586.05" y="376.6" text-anchor="middle">100</text>
<text x="360.9" y="228.06" text-anchor="end">7</text>
<text x="360.9" y="247.13" text-anchor="end">6</text>
<text x="360.9" y="266.2" text-anchor="end">5</text>
<text x="360.9" y="285.27" text-anchor="end">4</text>
<text x="360.9" y="304.34" text-anchor="end">3</text>
<text x="360.9" y="323.41" text-anchor="end">2</text>
<text x="360.9" y="342.48" text-anchor="end">1</text>
<text x="360.9" y="361.55" text-anchor="end">0</text>
<text x="476.6" y="397.05" text-anchor="middle" style="font-style:italic;font-size:12.5px">k</text>
<path d="M474.3 387.45l2.25 -2.1l2.25 2.1" fill="none" stroke="#000" stroke-width="1.25"/>
<line x1="603.9" y1="280.6" x2="616.7" y2="280.6" stroke="#ff0000" stroke-width="1.9"/>
<text x="623.1" y="283.2">n=0</text>
<line x1="603.9" y1="299.5" x2="616.7" y2="299.5" stroke="#21aa12" stroke-width="1.9"/>
<text x="623.1" y="302.1">n=1</text>
<line x1="603.9" y1="318.4" x2="616.7" y2="318.4" stroke="#2ac9ea" stroke-width="1.9"/>
<text x="623.1" y="321">n=2</text>
<line x1="603.9" y1="337.3" x2="616.7" y2="337.3" stroke="#0000ff" stroke-width="1.9"/>
<text x="623.1" y="339.9">n=3</text>
<text x="528.3" y="338.2" style="font-size:8.0px;stroke:#000;stroke-width:0.3px">3</text>
<text x="533.5" y="342.8">21</text>
<text x="546.9" y="344.8" style="font-size:8.0px;stroke:#000;stroke-width:0.3px">20</text>
</g>
<g>
<polyline points="706.3,231 707.36,231.61 708.41,232.21 709.47,232.82 710.52,233.42 711.58,234.03 712.64,234.63 713.69,235.24 714.75,235.84 715.8,236.45 716.86,237.05 717.92,237.66 718.97,238.26 720.03,238.87 721.08,239.47 722.14,240.08 723.2,240.68 724.25,241.29 725.31,241.89 726.36,242.5 727.42,243.1 728.48,243.71 729.53,244.31 730.59,244.92 731.64,245.52 732.7,246.13 733.76,246.73 734.81,247.34 735.87,247.94 736.92,248.55 737.98,249.15 739.04,249.76 740.09,250.36 741.15,250.97 742.2,251.57 743.26,252.18 744.32,252.78 745.37,253.39 746.43,253.99 747.48,254.6 748.54,255.2 749.6,255.81 750.65,256.41 751.71,257.02 752.76,257.62 753.82,258.23 754.88,258.83 755.93,259.44 756.99,260.04 758.04,260.65 759.1,261.25 760.16,261.86 761.21,262.46 762.27,263.07 763.32,263.67 764.38,264.28 765.44,264.88 766.49,265.49 767.55,266.09 768.6,266.7 769.66,267.3 770.72,267.91 771.77,268.51 772.83,269.12 773.88,269.72 774.94,270.33 776,270.93 777.05,271.54 778.11,272.14 779.16,272.75 780.22,273.35 781.28,273.96 782.33,274.56 783.39,275.17 784.44,275.78 785.5,276.38 786.56,276.99 787.61,277.59 788.67,278.2 789.72,278.8 790.78,279.41 791.84,280.01 792.89,280.62 793.95,281.22 795,281.83 796.06,282.43 797.12,283.04 798.17,283.64 799.23,284.25 800.28,284.85 801.34,285.46 802.4,286.06 803.45,286.67 804.51,287.27 805.56,287.88 806.62,288.48 807.68,289.09 808.73,289.69 809.79,290.3 810.84,290.9 811.9,291.51 812.96,292.11 814.01,292.72 815.07,293.32 816.12,293.93 817.18,294.53 818.24,295.14 819.29,295.74 820.35,296.35 821.4,296.95 822.46,297.56 823.52,298.16 824.57,298.77 825.63,299.37 826.68,299.98 827.74,300.58 828.8,301.19 829.85,301.79 830.91,302.4 831.96,303 833.02,303.61 834.08,304.21 835.13,304.82 836.19,305.42 837.24,306.03 838.3,306.63 839.36,307.24 840.41,307.84 841.47,308.45 842.52,309.05 843.58,309.66 844.64,310.26 845.69,310.87 846.75,311.47 847.8,312.08 848.86,312.68 849.92,313.29 850.97,313.89 852.03,314.5 853.08,315.1 854.14,315.71 855.2,316.31 856.25,316.92 857.31,317.52 858.36,318.13 859.42,318.73 860.48,319.34 861.53,319.95 862.59,320.55 863.64,321.16 864.7,321.76 865.76,322.37 866.81,322.97 867.87,323.58 868.92,324.18 869.98,324.79 871.04,325.39 872.09,326 873.15,326.6 874.2,327.21 875.26,327.81 876.32,328.42 877.37,329.02 878.43,329.63 879.48,330.23 880.54,330.84 881.6,331.44 882.65,332.05 883.71,332.65 884.76,333.26 885.82,333.86 886.88,334.47 887.93,335.07 888.99,335.68 890.04,336.28 891.1,336.89 892.16,337.49 893.21,338.1 894.27,338.7 895.32,339.31 896.38,339.91 897.44,340.52 898.49,341.12 899.55,341.73 900.6,342.33 901.66,342.94 902.72,343.54 903.77,344.15 904.83,344.75 905.88,345.36 906.94,345.96 908,346.57 909.05,347.17 910.11,347.78 911.16,348.38 912.22,348.99 913.28,349.59 914.33,350.2 915.39,350.8 916.44,351.41 917.5,352.01" fill="none" stroke="#ff0000" stroke-width="2.05" stroke-linecap="square" stroke-linejoin="round"/>
<polyline points="706.3,231 707.36,231.61 708.41,232.21 709.47,232.82 710.52,233.42 711.58,234.03 712.64,234.63 713.69,235.24 714.75,235.84 715.8,236.45 716.86,237.06 717.92,237.66 718.97,238.27 720.03,238.87 721.08,239.48 722.14,240.09 723.2,240.69 724.25,241.3 725.31,241.91 726.36,242.51 727.42,243.12 728.48,243.73 729.53,244.34 730.59,244.94 731.64,245.55 732.7,246.16 733.76,246.76 734.81,247.37 735.87,247.98 736.92,248.59 737.98,249.2 739.04,249.8 740.09,250.41 741.15,251.02 742.2,251.63 743.26,252.24 744.32,252.85 745.37,253.45 746.43,254.06 747.48,254.67 748.54,255.28 749.6,255.89 750.65,256.5 751.71,257.11 752.76,257.72 753.82,258.33 754.88,258.94 755.93,259.55 756.99,260.16 758.04,260.77 759.1,261.38 760.16,261.99 761.21,262.6 762.27,263.21 763.32,263.82 764.38,264.43 765.44,265.04 766.49,265.65 767.55,266.26 768.6,266.87 769.66,267.48 770.72,268.09 771.77,268.7 772.83,269.31 773.88,269.92 774.94,270.54 776,271.15 777.05,271.76 778.11,272.37 779.16,272.98 780.22,273.59 781.28,274.21 782.33,274.82 783.39,275.43 784.44,276.04 785.5,276.66 786.56,277.27 787.61,277.88 788.67,278.49 789.72,279.11 790.78,279.72 791.84,280.33 792.89,280.94 793.95,281.56 795,282.17 796.06,282.78 797.12,283.4 798.17,284.01 799.23,284.62 800.28,285.24 801.34,285.85 802.4,286.47 803.45,287.08 804.51,287.69 805.56,288.31 806.62,288.92 807.68,289.54 808.73,290.15 809.79,290.77 810.84,291.38 811.9,292 812.96,292.61 814.01,293.23 815.07,293.84 816.12,294.46 817.18,295.07 818.24,295.69 819.29,296.3 820.35,296.92 821.4,297.53 822.46,298.15 823.52,298.76 824.57,299.38 825.63,300 826.68,300.61 827.74,301.23 828.8,301.85 829.85,302.46 830.91,303.08 831.96,303.7 833.02,304.31 834.08,304.93 835.13,305.55 836.19,306.16 837.24,306.78 838.3,307.4 839.36,308.01 840.41,308.63 841.47,309.25 842.52,309.87 843.58,310.48 844.64,311.1 845.69,311.72 846.75,312.34 847.8,312.96 848.86,313.57 849.92,314.19 850.97,314.81 852.03,315.43 853.08,316.05 854.14,316.67 855.2,317.29 856.25,317.91 857.31,318.52 858.36,319.14 859.42,319.76 860.48,320.38 861.53,321 862.59,321.62 863.64,322.24 864.7,322.86 865.76,323.48 866.81,324.1 867.87,324.72 868.92,325.34 869.98,325.96 871.04,326.58 872.09,327.2 873.15,327.82 874.2,328.44 875.26,329.06 876.32,329.68 877.37,330.3 878.43,330.92 879.48,331.55 880.54,332.17 881.6,332.79 882.65,333.41 883.71,334.03 884.76,334.65 885.82,335.27 886.88,335.9 887.93,336.52 888.99,337.14 890.04,337.76 891.1,338.38 892.16,339.01 893.21,339.63 894.27,340.25 895.32,340.87 896.38,341.5 897.44,342.12 898.49,342.74 899.55,343.36 900.6,343.99 901.66,344.61 902.72,345.23 903.77,345.86 904.83,346.48 905.88,347.1 906.94,347.73 908,348.35 909.05,348.97 910.11,349.6 911.16,350.22 912.22,350.85 913.28,351.47 914.33,352.09 915.39,352.72 916.44,353.34 917.5,353.97" fill="none" stroke="#21aa12" stroke-width="2.05" stroke-linecap="square" stroke-linejoin="round"/>
<polyline points="706.3,231 707.36,231.61 708.41,232.21 709.47,232.82 710.52,233.42 711.58,234.03 712.64,234.63 713.69,235.24 714.75,235.84 715.8,236.45 716.86,237.05 717.92,237.66 718.97,238.26 720.03,238.87 721.08,239.48 722.14,240.08 723.2,240.69 724.25,241.29 725.31,241.9 726.36,242.5 727.42,243.11 728.48,243.71 729.53,244.31 730.59,244.92 731.64,245.52 732.7,246.13 733.76,246.73 734.81,247.33 735.87,247.94 736.92,248.54 737.98,249.14 739.04,249.75 740.09,250.35 741.15,250.95 742.2,251.55 743.26,252.16 744.32,252.76 745.37,253.36 746.43,253.96 747.48,254.56 748.54,255.16 749.6,255.76 750.65,256.36 751.71,256.96 752.76,257.55 753.82,258.15 754.88,258.75 755.93,259.35 756.99,259.94 758.04,260.54 759.1,261.14 760.16,261.73 761.21,262.33 762.27,262.92 763.32,263.52 764.38,264.11 765.44,264.7 766.49,265.29 767.55,265.89 768.6,266.48 769.66,267.07 770.72,267.66 771.77,268.25 772.83,268.84 773.88,269.42 774.94,270.01 776,270.6 777.05,271.18 778.11,271.77 779.16,272.35 780.22,272.94 781.28,273.52 782.33,274.11 783.39,274.69 784.44,275.27 785.5,275.85 786.56,276.43 787.61,277.01 788.67,277.59 789.72,278.16 790.78,278.74 791.84,279.32 792.89,279.89 793.95,280.47 795,281.04 796.06,281.61 797.12,282.18 798.17,282.75 799.23,283.32 800.28,283.89 801.34,284.46 802.4,285.03 803.45,285.59 804.51,286.16 805.56,286.72 806.62,287.28 807.68,287.85 808.73,288.41 809.79,288.97 810.84,289.53 811.9,290.09 812.96,290.64 814.01,291.2 815.07,291.75 816.12,292.31 817.18,292.86 818.24,293.41 819.29,293.96 820.35,294.51 821.4,295.06 822.46,295.61 823.52,296.15 824.57,296.7 825.63,297.24 826.68,297.78 827.74,298.32 828.8,298.86 829.85,299.4 830.91,299.94 831.96,300.48 833.02,301.01 834.08,301.54 835.13,302.08 836.19,302.61 837.24,303.14 838.3,303.67 839.36,304.19 840.41,304.72 841.47,305.24 842.52,305.77 843.58,306.29 844.64,306.81 845.69,307.33 846.75,307.84 847.8,308.36 848.86,308.87 849.92,309.39 850.97,309.9 852.03,310.41 853.08,310.92 854.14,311.43 855.2,311.93 856.25,312.44 857.31,312.94 858.36,313.44 859.42,313.94 860.48,314.44 861.53,314.93 862.59,315.43 863.64,315.92 864.7,316.41 865.76,316.9 866.81,317.39 867.87,317.88 868.92,318.36 869.98,318.85 871.04,319.33 872.09,319.81 873.15,320.29 874.2,320.76 875.26,321.24 876.32,321.71 877.37,322.18 878.43,322.65 879.48,323.12 880.54,323.59 881.6,324.05 882.65,324.51 883.71,324.97 884.76,325.43 885.82,325.89 886.88,326.34 887.93,326.8 888.99,327.25 890.04,327.7 891.1,328.15 892.16,328.59 893.21,329.04 894.27,329.48 895.32,329.92 896.38,330.35 897.44,330.79 898.49,331.22 899.55,331.66 900.6,332.09 901.66,332.52 902.72,332.94 903.77,333.36 904.83,333.79 905.88,334.21 906.94,334.62 908,335.04 909.05,335.45 910.11,335.87 911.16,336.27 912.22,336.68 913.28,337.09 914.33,337.49 915.39,337.89 916.44,338.29 917.5,338.69" fill="none" stroke="#2ac9ea" stroke-width="2.05" stroke-linecap="square" stroke-linejoin="round"/>
<polyline points="706.3,231 707.36,231.61 708.41,232.21 709.47,232.82 710.52,233.42 711.58,234.03 712.64,234.63 713.69,235.24 714.75,235.84 715.8,236.45 716.86,237.05 717.92,237.66 718.97,238.26 720.03,238.87 721.08,239.48 722.14,240.08 723.2,240.69 724.25,241.29 725.31,241.9 726.36,242.5 727.42,243.11 728.48,243.71 729.53,244.31 730.59,244.92 731.64,245.52 732.7,246.13 733.76,246.73 734.81,247.33 735.87,247.94 736.92,248.54 737.98,249.14 739.04,249.75 740.09,250.35 741.15,250.95 742.2,251.55 743.26,252.15 744.32,252.76 745.37,253.36 746.43,253.96 747.48,254.56 748.54,255.16 749.6,255.76 750.65,256.36 751.71,256.96 752.76,257.55 753.82,258.15 754.88,258.75 755.93,259.35 756.99,259.94 758.04,260.54 759.1,261.14 760.16,261.73 761.21,262.33 762.27,262.92 763.32,263.51 764.38,264.11 765.44,264.7 766.49,265.29 767.55,265.88 768.6,266.47 769.66,267.07 770.72,267.65 771.77,268.24 772.83,268.83 773.88,269.42 774.94,270.01 776,270.59 777.05,271.18 778.11,271.77 779.16,272.35 780.22,272.94 781.28,273.52 782.33,274.1 783.39,274.68 784.44,275.26 785.5,275.84 786.56,276.42 787.61,277 788.67,277.58 789.72,278.16 790.78,278.73 791.84,279.31 792.89,279.88 793.95,280.46 795,281.03 796.06,281.6 797.12,282.18 798.17,282.75 799.23,283.32 800.28,283.88 801.34,284.45 802.4,285.02 803.45,285.58 804.51,286.15 805.56,286.71 806.62,287.28 807.68,287.84 808.73,288.4 809.79,288.96 810.84,289.52 811.9,290.07 812.96,290.63 814.01,291.19 815.07,291.74 816.12,292.29 817.18,292.85 818.24,293.4 819.29,293.95 820.35,294.5 821.4,295.04 822.46,295.59 823.52,296.14 824.57,296.68 825.63,297.22 826.68,297.77 827.74,298.31 828.8,298.85 829.85,299.38 830.91,299.92 831.96,300.46 833.02,300.99 834.08,301.52 835.13,302.06 836.19,302.59 837.24,303.12 838.3,303.64 839.36,304.17 840.41,304.7 841.47,305.22 842.52,305.74 843.58,306.26 844.64,306.78 845.69,307.3 846.75,307.82 847.8,308.33 848.86,308.85 849.92,309.36 850.97,309.87 852.03,310.38 853.08,310.89 854.14,311.4 855.2,311.9 856.25,312.4 857.31,312.91 858.36,313.41 859.42,313.9 860.48,314.4 861.53,314.9 862.59,315.39 863.64,315.88 864.7,316.38 865.76,316.86 866.81,317.35 867.87,317.84 868.92,318.32 869.98,318.8 871.04,319.29 872.09,319.76 873.15,320.24 874.2,320.72 875.26,321.19 876.32,321.66 877.37,322.13 878.43,322.6 879.48,323.07 880.54,323.54 881.6,324 882.65,324.46 883.71,324.92 884.76,325.38 885.82,325.83 886.88,326.29 887.93,326.74 888.99,327.19 890.04,327.64 891.1,328.09 892.16,328.53 893.21,328.97 894.27,329.41 895.32,329.85 896.38,330.29 897.44,330.73 898.49,331.16 899.55,331.59 900.6,332.02 901.66,332.44 902.72,332.87 903.77,333.29 904.83,333.71 905.88,334.13 906.94,334.55 908,334.96 909.05,335.38 910.11,335.79 911.16,336.19 912.22,336.6 913.28,337 914.33,337.41 915.39,337.8 916.44,338.2 917.5,338.6" fill="none" stroke="#0000ff" stroke-width="2.05" stroke-linecap="square" stroke-linejoin="round"/>
<path d="M706.3 360.25v-2.8M716.86 360.25v-1.8M727.42 360.25v-1.8M737.98 360.25v-1.8M748.54 360.25v-2.8M759.1 360.25v-1.8M769.66 360.25v-1.8M780.22 360.25v-1.8M790.78 360.25v-2.8M801.34 360.25v-1.8M811.9 360.25v-1.8M822.46 360.25v-1.8M833.02 360.25v-2.8M843.58 360.25v-1.8M854.14 360.25v-1.8M864.7 360.25v-1.8M875.26 360.25v-2.8M885.82 360.25v-1.8M896.38 360.25v-1.8M906.94 360.25v-1.8M917.5 360.25v-2.8M701.3 358.94h1.8M701.3 355.39h2.8M701.3 351.84h1.8M701.3 348.28h1.8M701.3 344.73h1.8M701.3 341.17h1.8M701.3 337.62h2.8M701.3 334.07h1.8M701.3 330.51h1.8M701.3 326.96h1.8M701.3 323.4h1.8M701.3 319.85h2.8M701.3 316.3h1.8M701.3 312.74h1.8M701.3 309.19h1.8M701.3 305.63h1.8M701.3 302.08h2.8M701.3 298.53h1.8M701.3 294.97h1.8M701.3 291.42h1.8M701.3 287.86h1.8M701.3 284.31h2.8M701.3 280.76h1.8M701.3 277.2h1.8M701.3 273.65h1.8M701.3 270.09h1.8M701.3 266.54h2.8M701.3 262.99h1.8M701.3 259.43h1.8M701.3 255.88h1.8M701.3 252.32h1.8M701.3 248.77h2.8M701.3 245.22h1.8M701.3 241.66h1.8M701.3 238.11h1.8M701.3 234.55h1.8M701.3 231h2.8M701.3 227.45h1.8" stroke="#a0a0a0" stroke-width="0.85" fill="none"/>
<path d="M706.3 224.3v2.3M716.86 224.3v1.5M727.42 224.3v1.5M737.98 224.3v1.5M748.54 224.3v2.3M759.1 224.3v1.5M769.66 224.3v1.5M780.22 224.3v1.5M790.78 224.3v2.3M801.34 224.3v1.5M811.9 224.3v1.5M822.46 224.3v1.5M833.02 224.3v2.3M843.58 224.3v1.5M854.14 224.3v1.5M864.7 224.3v1.5M875.26 224.3v2.3M885.82 224.3v1.5M896.38 224.3v1.5M906.94 224.3v1.5M917.5 224.3v2.3M921.6 358.94h-1.5M921.6 355.39h-2.3M921.6 351.84h-1.5M921.6 348.28h-1.5M921.6 344.73h-1.5M921.6 341.17h-1.5M921.6 337.62h-2.3M921.6 334.07h-1.5M921.6 330.51h-1.5M921.6 326.96h-1.5M921.6 323.4h-1.5M921.6 319.85h-2.3M921.6 316.3h-1.5M921.6 312.74h-1.5M921.6 309.19h-1.5M921.6 305.63h-1.5M921.6 302.08h-2.3M921.6 298.53h-1.5M921.6 294.97h-1.5M921.6 291.42h-1.5M921.6 287.86h-1.5M921.6 284.31h-2.3M921.6 280.76h-1.5M921.6 277.2h-1.5M921.6 273.65h-1.5M921.6 270.09h-1.5M921.6 266.54h-2.3M921.6 262.99h-1.5M921.6 259.43h-1.5M921.6 255.88h-1.5M921.6 252.32h-1.5M921.6 248.77h-2.3M921.6 245.22h-1.5M921.6 241.66h-1.5M921.6 238.11h-1.5M921.6 234.55h-1.5M921.6 231h-2.3M921.6 227.45h-1.5" stroke="#bebebe" stroke-width="0.8" fill="none"/>
<rect x="701.3" y="224.3" width="220.3" height="135.95" fill="none" stroke="#a2a2a2" stroke-width="1"/>
<text x="706.45" y="372.6" text-anchor="middle">0</text>
<text x="748.69" y="372.6" text-anchor="middle">20</text>
<text x="790.93" y="372.6" text-anchor="middle">40</text>
<text x="833.17" y="372.6" text-anchor="middle">60</text>
<text x="875.41" y="372.6" text-anchor="middle">80</text>
<text x="917.65" y="372.6" text-anchor="middle">100</text>
<text x="699.8" y="235.05" text-anchor="end">0</text>
<text x="699.8" y="252.82" text-anchor="end"><tspan dy="0.6" style="font-weight:normal">−</tspan><tspan dx="1.0" dy="-0.6">1</tspan></text>
<text x="699.8" y="270.59" text-anchor="end"><tspan dy="0.6" style="font-weight:normal">−</tspan><tspan dx="1.0" dy="-0.6">2</tspan></text>
<text x="699.8" y="288.36" text-anchor="end"><tspan dy="0.6" style="font-weight:normal">−</tspan><tspan dx="1.0" dy="-0.6">3</tspan></text>
<text x="699.8" y="306.13" text-anchor="end"><tspan dy="0.6" style="font-weight:normal">−</tspan><tspan dx="1.0" dy="-0.6">4</tspan></text>
<text x="699.8" y="323.9" text-anchor="end"><tspan dy="0.6" style="font-weight:normal">−</tspan><tspan dx="1.0" dy="-0.6">5</tspan></text>
<text x="699.8" y="341.67" text-anchor="end"><tspan dy="0.6" style="font-weight:normal">−</tspan><tspan dx="1.0" dy="-0.6">6</tspan></text>
<text x="699.8" y="359.44" text-anchor="end"><tspan dy="0.6" style="font-weight:normal">−</tspan><tspan dx="1.0" dy="-0.6">7</tspan></text>
<text x="811.45" y="393.05" text-anchor="middle" style="font-style:italic;font-size:12.5px">k</text>
<path d="M809.15 383.45l2.25 -2.1l2.25 2.1" fill="none" stroke="#000" stroke-width="1.25"/>
<line x1="934.9" y1="280.6" x2="947.7" y2="280.6" stroke="#ff0000" stroke-width="1.9"/>
<text x="954.1" y="283.2">n=0</text>
<line x1="934.9" y1="299.5" x2="947.7" y2="299.5" stroke="#21aa12" stroke-width="1.9"/>
<text x="954.1" y="302.1">n=1</text>
<line x1="934.9" y1="318.4" x2="947.7" y2="318.4" stroke="#2ac9ea" stroke-width="1.9"/>
<text x="954.1" y="321">n=2</text>
<line x1="934.9" y1="337.3" x2="947.7" y2="337.3" stroke="#0000ff" stroke-width="1.9"/>
<text x="954.1" y="339.9">n=3</text>
<g transform="translate(868,287.8) scale(1,0.95)"><path d="M5.9 -6.2C4.6 -6.6 3.2 -6.4 2.3 -5.8C1.1 -5 0.45 -3.9 0.45 -2.6C0.45 -1.1 1.3 -0.35 2.6 -0.35C3.5 -0.35 4.2 -0.55 4.8 -0.95M1 -3.4H4.6" fill="none" stroke="#000" stroke-width="1.05"/></g>
<text x="872.8" y="289.8" style="font-size:8.0px;stroke:#000;stroke-width:0.3px">20</text>
</g>
</svg>
</body></html>
